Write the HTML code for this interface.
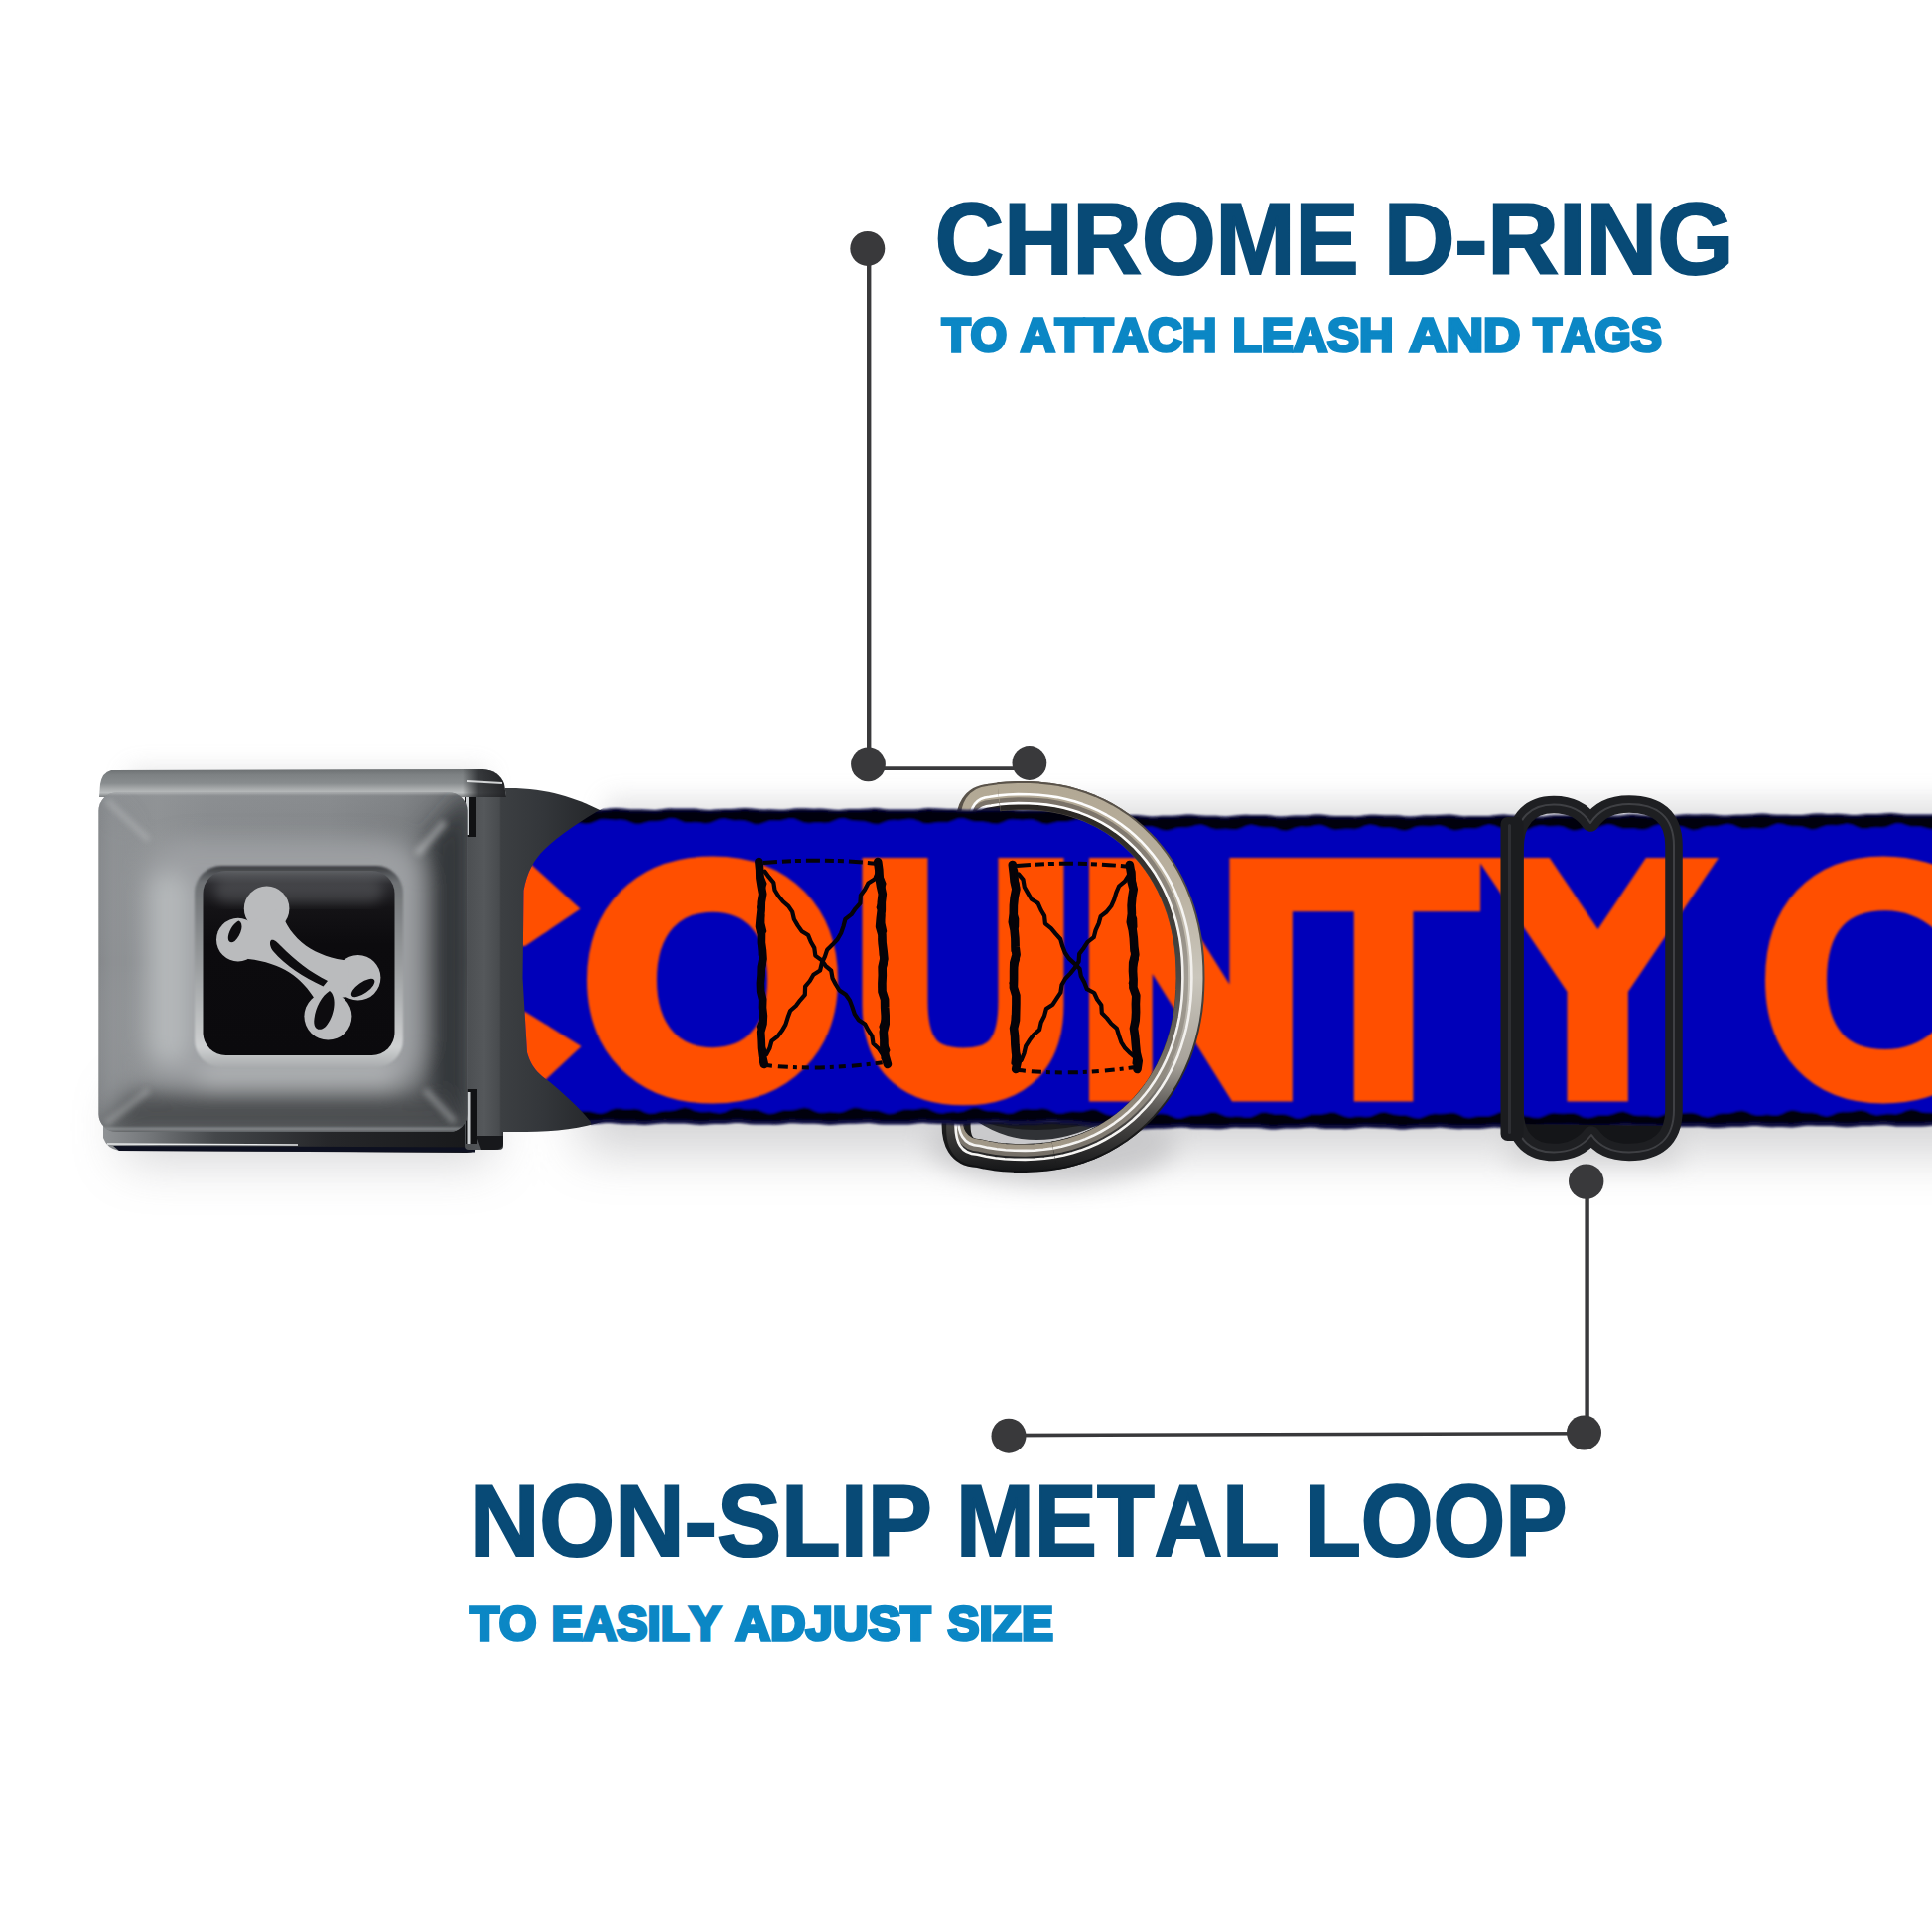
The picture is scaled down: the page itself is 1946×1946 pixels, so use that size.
<!DOCTYPE html>
<html lang="en"><head><meta charset="utf-8"><title>Collar features</title>
<style>html,body{margin:0;padding:0;background:#fff}svg{display:block}</style></head>
<body>
<svg width="1946" height="1946" viewBox="0 0 1946 1946">
<defs>
<filter id="b30" filterUnits="userSpaceOnUse" x="-200" y="500" width="2400" height="1100"><feGaussianBlur stdDeviation="26"/></filter>
<filter id="b14" filterUnits="userSpaceOnUse" x="-200" y="500" width="2400" height="1100"><feGaussianBlur stdDeviation="13"/></filter>
<filter id="b10" x="-20%" y="-20%" width="140%" height="140%"><feGaussianBlur stdDeviation="11"/></filter>
<filter id="b6" x="-20%" y="-20%" width="140%" height="140%"><feGaussianBlur stdDeviation="6"/></filter>
<filter id="b3" x="-20%" y="-20%" width="140%" height="140%"><feGaussianBlur stdDeviation="3"/></filter>
<filter id="b1" filterUnits="userSpaceOnUse" x="0" y="700" width="1946" height="600"><feGaussianBlur stdDeviation="1.1"/></filter>
<linearGradient id="gface" x1="0" y1="0" x2="0" y2="1">
 <stop offset="0" stop-color="#aeb2b3"/><stop offset=".12" stop-color="#9da1a3"/><stop offset=".55" stop-color="#8a8e90"/><stop offset=".9" stop-color="#6f7375"/><stop offset="1" stop-color="#8e9294"/>
</linearGradient>
<linearGradient id="gpillow" x1="0" y1="0" x2="1" y2="1">
 <stop offset="0" stop-color="#b4b7b8"/><stop offset=".5" stop-color="#9a9ea0"/><stop offset="1" stop-color="#808486"/>
</linearGradient>
<linearGradient id="grecess" x1="0" y1="0" x2="0" y2="1">
 <stop offset="0" stop-color="#4e5153"/><stop offset=".15" stop-color="#85898b"/><stop offset=".8" stop-color="#a9acae"/><stop offset="1" stop-color="#c4c6c7"/>
</linearGradient>
<linearGradient id="gblack" x1="0" y1="0" x2="0" y2="1">
 <stop offset="0" stop-color="#3b3c40"/><stop offset=".12" stop-color="#19191c"/><stop offset=".3" stop-color="#0c0b0e"/><stop offset="1" stop-color="#0a090c"/>
</linearGradient>
<linearGradient id="gtoplip" x1="0" y1="0" x2="0" y2="1">
 <stop offset="0" stop-color="#6f7375"/><stop offset=".35" stop-color="#8b8f91"/><stop offset=".7" stop-color="#b9bcbd"/><stop offset="1" stop-color="#c9cbcc"/>
</linearGradient>
<linearGradient id="gbotlip" x1="0" y1="0" x2="0" y2="1">
 <stop offset="0" stop-color="#4a4d50"/><stop offset=".45" stop-color="#1a1c1f"/><stop offset=".8" stop-color="#0e0f12"/><stop offset="1" stop-color="#6a6d70"/>
</linearGradient>
<linearGradient id="ghinge" x1="0" y1="0" x2="1" y2="0">
 <stop offset="0" stop-color="#d9dbdc"/><stop offset=".18" stop-color="#5a5d60"/><stop offset=".3" stop-color="#e8e9ea"/><stop offset=".38" stop-color="#2c2e31"/><stop offset=".7" stop-color="#43464a"/><stop offset="1" stop-color="#2a2c2f"/>
</linearGradient>
</defs>
<rect width="1946" height="1946" fill="#ffffff"/>
<g opacity=".37">
<rect x="585" y="1085" width="1500" height="75" fill="#85858a" filter="url(#b30)"/>
<rect x="125" y="1100" width="370" height="70" fill="#8d8d92" filter="url(#b30)"/>
<ellipse cx="1060" cy="1150" rx="125" ry="42" fill="#707075" filter="url(#b14)"/>
<rect x="1520" y="1120" width="170" height="52" fill="#8a8a8e" filter="url(#b14)"/>
</g>
<g opacity=".28"><rect x="610" y="805" width="1500" height="50" fill="#9a9a9e" filter="url(#b14)"/><rect x="130" y="775" width="360" height="40" fill="#a5a5a9" filter="url(#b14)"/></g>
<defs>
<linearGradient id="bfaceH" x1="0" y1="0" x2="1" y2="0">
 <stop offset="0" stop-color="#7e8184"/><stop offset=".04" stop-color="#939699"/><stop offset=".16" stop-color="#9c9fa1"/><stop offset=".3" stop-color="#8f9295"/><stop offset=".62" stop-color="#888b8e"/><stop offset=".82" stop-color="#74777a"/><stop offset=".92" stop-color="#55585b"/><stop offset="1" stop-color="#3a3d40"/>
</linearGradient>
<linearGradient id="bfaceV" x1="0" y1="0" x2="0" y2="1">
 <stop offset="0" stop-color="#c8cacb" stop-opacity=".7"/><stop offset=".012" stop-color="#8f9295" stop-opacity=".3"/><stop offset=".1" stop-color="#85888b" stop-opacity=".1"/><stop offset=".5" stop-color="#ffffff" stop-opacity="0"/><stop offset="1" stop-color="#55585b" stop-opacity=".25"/>
</linearGradient>
<linearGradient id="btoplip" x1="0" y1="0" x2="0" y2="1">
 <stop offset="0" stop-color="#6c7072"/><stop offset=".2" stop-color="#7d8183"/><stop offset=".5" stop-color="#888c8e"/><stop offset=".72" stop-color="#a9acad"/><stop offset=".85" stop-color="#b9bcbd"/><stop offset="1" stop-color="#7b7e80"/>
</linearGradient>
<linearGradient id="bliptail" x1="0" y1="0" x2="1" y2="0">
 <stop offset="0" stop-color="#2a2c2f" stop-opacity="0"/><stop offset=".35" stop-color="#2a2c2f" stop-opacity=".85"/><stop offset="1" stop-color="#1c1d20" stop-opacity=".95"/>
</linearGradient>
<linearGradient id="bbotlipH" x1="0" y1="0" x2="1" y2="0">
 <stop offset="0" stop-color="#8f9295"/><stop offset=".12" stop-color="#74777a"/><stop offset=".3" stop-color="#44474a"/><stop offset=".6" stop-color="#26272a"/><stop offset="1" stop-color="#17181a"/>
</linearGradient>
<linearGradient id="bhinge" x1="0" y1="0" x2="1" y2="0">
 <stop offset="0" stop-color="#4b4e51"/><stop offset=".5" stop-color="#55585b"/><stop offset=".9" stop-color="#484b4e"/><stop offset="1" stop-color="#2c2e31"/>
</linearGradient>
<linearGradient id="btab" x1="0" y1="0" x2="1" y2="0">
 <stop offset="0" stop-color="#3c3f42"/><stop offset=".4" stop-color="#33363a"/><stop offset="1" stop-color="#222427"/>
</linearGradient>
<linearGradient id="brecess" x1="0" y1="0" x2="0" y2="1">
 <stop offset="0" stop-color="#3a3c40"/><stop offset=".08" stop-color="#6e7174"/><stop offset=".5" stop-color="#9b9ea0"/><stop offset=".9" stop-color="#cfd1d2"/><stop offset="1" stop-color="#a9acae"/>
</linearGradient>
<linearGradient id="bblack" x1="0" y1="0" x2="0" y2="1">
 <stop offset="0" stop-color="#5d5f63"/><stop offset=".07" stop-color="#2c2c30"/><stop offset=".2" stop-color="#141316"/><stop offset=".4" stop-color="#0c0b0e"/><stop offset="1" stop-color="#0b0a0d"/>
</linearGradient>
<clipPath id="faceclip"><rect x="99.5" y="798.5" width="371" height="341.5" rx="18"/></clipPath>
</defs>
<g id="buckle">
<path d="M104,1130 L481,1130 L481,1152 Q480,1161 470,1161 L120,1159 Q108,1157 104,1146Z" fill="url(#bbotlipH)"/>
<path d="M114,1154 L478,1155.5 L478,1160.5 L120,1159 Z" fill="#0d1020"/>
<path d="M108,1152 L300,1153" stroke="#e9ebec" stroke-width="1.6"/>
<rect x="468" y="789" width="39" height="369" rx="4" fill="url(#bhinge)"/>
<rect x="468" y="795" width="11" height="48" fill="#111214"/><rect x="469" y="795" width="3" height="46" fill="#cfd2d4"/>
<rect x="469" y="1097" width="11" height="55" fill="#111214"/><rect x="470.5" y="1100" width="3" height="52" fill="#cfd2d4"/>
<path d="M479,1144 L507,1144 L507,1152 Q506,1158 498,1158 L484,1158Z" fill="#17181b"/>
<path d="M505,794 L520,794 C560,796 585,806 612,820 L612,1128 C590,1136 560,1140 530,1140 L505,1140Z" fill="url(#btab)"/>
<path d="M112,776 L486,775 Q503,776 508,790 L510,803 L100,803 L101,790 Q103,778 112,776Z" fill="url(#btoplip)"/>
<path d="M466,775.3 L486,775 Q503,776 508,790 L510,803 L466,803Z" fill="url(#bliptail)"/>
<path d="M470,787 L506,789" stroke="#eef0f1" stroke-width="1.8" opacity=".85"/>
<g clip-path="url(#faceclip)">
<rect x="99" y="798" width="372" height="343" fill="#84878a"/>
<rect x="99" y="798" width="372" height="343" fill="url(#bfaceH)" opacity=".55"/>
<rect x="99" y="798" width="372" height="343" fill="url(#bfaceV)"/>
<g filter="url(#b10)">
<rect x="146" y="846" width="280" height="248" rx="44" fill="#9c9fa2"/>
<rect x="150" y="880" width="40" height="190" rx="18" fill="#b4b7b9"/>
<rect x="200" y="1078" width="200" height="16" rx="8" fill="#b9bcbe"/>
<path d="M430,846 L474,796 L474,1144 L430,1096Z" fill="#2f3235" opacity=".95"/>
<path d="M124,1100 L446,1100 L474,1144 L96,1144Z" fill="#45484b" opacity=".9"/>
<path d="M100,800 L130,832 L130,1104 L100,1138Z" fill="#8f9295" opacity=".6"/>
</g>
<path d="M107,806 L150,846" stroke="#d0d2d3" stroke-width="5" opacity=".4" filter="url(#b3)"/>
<path d="M106,1132 L150,1098" stroke="#c9cbcc" stroke-width="5" opacity=".45" filter="url(#b3)"/>
<path d="M428,1098 L458,1130" stroke="#c5c8c9" stroke-width="6" opacity=".5" filter="url(#b3)"/>
<path d="M420,860 L448,828" stroke="#d5d7d8" stroke-width="7" opacity=".5" filter="url(#b3)"/>
<path d="M423,880 L423,1060" stroke="#d0d2d3" stroke-width="8" opacity=".35" filter="url(#b6)"/>
<path d="M100,1137 L470,1137" stroke="#a4a7a9" stroke-width="3" opacity=".6" filter="url(#b1)"/>
</g>
<rect x="196" y="872" width="210" height="203" rx="27" fill="url(#brecess)" filter="url(#b1)"/>
<rect x="204.5" y="877" width="193" height="186" rx="23" fill="url(#bblack)"/>
<rect x="216" y="884" width="170" height="26" rx="13" fill="#77797d" opacity=".35" filter="url(#b6)"/>
<g fill="#babbbd">
<circle cx="268.6" cy="915.3" r="22.8"/>
<circle cx="239.8" cy="946.6" r="21.8"/>
<circle cx="360.6" cy="984.8" r="22.8"/>
<circle cx="330.4" cy="1023.6" r="24"/>
<path d="M250,930 L282,915 C292,948 318,964 352,968 L350,1004 L318,1008 C304,984 284,970 250,966Z"/>
</g>
<g fill="#0d0c0f">
<path d="M240.5,927.5 C246,930 243.5,941 236.5,948 C231,951.5 228.5,947 230.5,940.5 C232.5,934 236.5,929.5 240.5,927.5Z"/>
<ellipse cx="365.6" cy="995" rx="13.8" ry="5.6" transform="rotate(-35 365.6 995)"/>
<path d="M332,998 C340,1004 337,1024 328,1034 C321,1040 315,1036 316.5,1026 C318,1014 324,1003 332,998Z"/>
<path d="M273,947 C276,946 279,949 283,953 C298,968 312,979 330,988 L325.5,993.5 C305,984 288,973 275,958 C272,954 271,949 273,947Z"/>
</g>
</g>
<defs>
<linearGradient id="grbase" gradientUnits="userSpaceOnUse" x1="0" y1="787" x2="0" y2="1182">
 <stop offset="0" stop-color="#5a534a"/><stop offset=".5" stop-color="#4a4742"/><stop offset="1" stop-color="#0f1012"/>
</linearGradient>
<linearGradient id="grout" gradientUnits="userSpaceOnUse" x1="0" y1="787" x2="0" y2="1182">
 <stop offset="0" stop-color="#b2a894"/><stop offset=".25" stop-color="#b9b09f"/><stop offset=".5" stop-color="#cac6bc"/><stop offset=".72" stop-color="#a7a29a"/><stop offset=".86" stop-color="#4a4846"/><stop offset="1" stop-color="#131416"/>
</linearGradient>
<linearGradient id="grmid" gradientUnits="userSpaceOnUse" x1="0" y1="787" x2="0" y2="1182">
 <stop offset="0" stop-color="#756d63"/><stop offset=".5" stop-color="#a19c93"/><stop offset=".85" stop-color="#8a847a"/><stop offset="1" stop-color="#6d675f"/>
</linearGradient>
<linearGradient id="grin" gradientUnits="userSpaceOnUse" x1="0" y1="787" x2="0" y2="1182">
 <stop offset="0" stop-color="#25221f"/><stop offset=".5" stop-color="#4b4844"/><stop offset=".8" stop-color="#8d8577"/><stop offset="1" stop-color="#ada391"/>
</linearGradient>
<linearGradient id="grhi" gradientUnits="userSpaceOnUse" x1="0" y1="787" x2="0" y2="1182">
 <stop offset="0" stop-color="#ffffff"/><stop offset=".5" stop-color="#f1efec"/><stop offset="1" stop-color="#f6f5f3"/>
</linearGradient>
</defs>
<g><path d="M977.2,834.1 Q975.7,805.6 996.7,804.1 L996.7,804.1 1005.9,802.8 1015.3,801.9 1025.3,801.5 1036.2,801.6 1045.9,802.1 1055.3,803.1 1064.4,804.5 1073.2,806.3 1081.8,808.7 1090.2,811.4 1098.3,814.6 1106.3,818.2 1113.9,822.3 1121.4,826.7 1128.5,831.6 1135.4,836.8 1142.0,842.4 1148.3,848.4 1154.2,854.8 1159.9,861.5 1165.2,868.5 1170.1,875.8 1174.7,883.5 1178.9,891.4 1182.7,899.6 1186.2,908.1 1189.2,916.8 1191.9,925.8 1194.1,935.0 1195.9,944.5 1197.3,954.2 1198.3,964.2 1198.9,974.6 1199.0,986.2 1198.7,997.1 1198.0,1007.4 1196.9,1017.3 1195.3,1026.9 1193.3,1036.2 1191.0,1045.4 1188.2,1054.3 1185.0,1062.9 1181.4,1071.3 1177.5,1079.4 1173.1,1087.3 1168.4,1094.8 1163.3,1102.0 1157.9,1108.9 1152.2,1115.5 1146.1,1121.7 1139.7,1127.6 1133.0,1133.1 1126.0,1138.2 1118.8,1142.9 1111.3,1147.2 1103.5,1151.1 1095.5,1154.6 1087.2,1157.6 1078.8,1160.2 1070.1,1162.4 1061.2,1164.1 1052.0,1165.3 1042.6,1166.1 1032.5,1166.5 1021.6,1166.4 1011.9,1165.8 1002.6,1164.8 993.6,1163.3 984.8,1161.4 Q960.8,1160.4 963.3,1127.4" fill="none" stroke="url(#grbase)" stroke-width="29" stroke-linecap="round" stroke-linejoin="round"/>
<path d="M976.6,830.7 Q975.1,802.2 996.1,800.7 L996.1,800.7 1005.4,799.3 1015.0,798.4 1025.2,798.0 1036.3,798.1 1046.3,798.6 1055.8,799.6 1065.1,801.0 1074.1,802.9 1082.9,805.3 1091.4,808.1 1099.8,811.4 1107.9,815.0 1115.7,819.2 1123.3,823.7 1130.6,828.6 1137.6,834.0 1144.3,839.7 1150.7,845.8 1156.8,852.3 1162.6,859.1 1168.0,866.3 1173.0,873.7 1177.7,881.5 1182.0,889.6 1185.9,898.0 1189.4,906.6 1192.5,915.5 1195.2,924.7 1197.5,934.1 1199.3,943.7 1200.8,953.6 1201.8,963.8 1202.4,974.4 1202.5,986.3 1202.2,997.4 1201.5,1007.8 1200.3,1017.9 1198.7,1027.7 1196.7,1037.3 1194.3,1046.6 1191.5,1055.6 1188.2,1064.4 1184.6,1073.0 1180.5,1081.3 1176.1,1089.2 1171.3,1096.9 1166.1,1104.3 1160.6,1111.3 1154.7,1118.0 1148.5,1124.4 1142.0,1130.4 1135.2,1136.0 1128.0,1141.2 1120.6,1146.0 1113.0,1150.3 1105.0,1154.3 1096.8,1157.8 1088.4,1160.9 1079.8,1163.6 1070.9,1165.8 1061.8,1167.5 1052.5,1168.8 1042.8,1169.6 1032.6,1170.0 1021.5,1169.9 1011.6,1169.3 1002.1,1168.3 992.8,1166.8 983.9,1164.8 Q959.9,1163.8 962.4,1130.8" fill="none" stroke="url(#grout)" stroke-width="18.0" stroke-linecap="round" stroke-linejoin="round"/>
<path d="M978.4,840.0 Q976.9,811.5 997.9,810.0 L997.9,810.0 1006.7,808.8 1015.8,807.9 1025.4,807.5 1035.9,807.6 1045.4,808.1 1054.4,809.0 1063.1,810.4 1071.6,812.2 1079.9,814.4 1088.0,817.1 1095.9,820.2 1103.5,823.7 1111.0,827.6 1118.1,831.9 1125.0,836.6 1131.7,841.6 1138.0,847.1 1144.1,852.9 1149.8,859.0 1155.3,865.5 1160.4,872.3 1165.1,879.4 1169.6,886.8 1173.6,894.5 1177.3,902.4 1180.6,910.6 1183.6,919.0 1186.1,927.7 1188.3,936.6 1190.0,945.8 1191.4,955.2 1192.3,964.8 1192.9,974.9 1193.0,986.1 1192.7,996.7 1192.0,1006.6 1190.9,1016.2 1189.4,1025.5 1187.5,1034.5 1185.3,1043.4 1182.6,1052.0 1179.5,1060.3 1176.0,1068.4 1172.2,1076.3 1168.0,1083.9 1163.5,1091.2 1158.6,1098.2 1153.4,1104.8 1147.8,1111.2 1142.0,1117.2 1135.8,1122.9 1129.4,1128.2 1122.6,1133.1 1115.6,1137.7 1108.4,1141.9 1100.9,1145.6 1093.2,1149.0 1085.2,1151.9 1077.0,1154.4 1068.7,1156.5 1060.1,1158.2 1051.2,1159.4 1042.1,1160.1 1032.4,1160.5 1021.9,1160.4 1012.6,1159.8 1003.6,1158.9 994.9,1157.4 986.4,1155.6 Q962.4,1154.6 964.9,1121.6" fill="none" stroke="url(#grmid)" stroke-width="8.4" stroke-linecap="butt" stroke-linejoin="round"/>
<path d="M979.4,845.1 Q977.9,816.6 998.9,815.1 L998.9,815.1 1007.4,813.9 1016.2,813.1 1025.5,812.7 1035.7,812.8 1044.9,813.3 1053.6,814.2 1062.1,815.5 1070.3,817.2 1078.3,819.4 1086.2,822.0 1093.8,825.0 1101.2,828.4 1108.4,832.2 1115.3,836.4 1122.0,840.9 1128.4,845.8 1134.6,851.1 1140.4,856.7 1146.0,862.7 1151.3,869.0 1156.2,875.6 1160.8,882.5 1165.1,889.6 1169.0,897.1 1172.6,904.8 1175.8,912.8 1178.7,921.0 1181.1,929.4 1183.2,938.0 1184.9,946.9 1186.2,956.0 1187.1,965.4 1187.7,975.2 1187.8,986.1 1187.5,996.3 1186.9,1005.9 1185.8,1015.2 1184.4,1024.2 1182.5,1033.0 1180.3,1041.6 1177.7,1050.0 1174.7,1058.1 1171.4,1066.0 1167.7,1073.6 1163.6,1080.9 1159.2,1088.0 1154.5,1094.8 1149.4,1101.3 1144.1,1107.5 1138.4,1113.3 1132.4,1118.8 1126.2,1124.0 1119.7,1128.7 1112.9,1133.2 1105.9,1137.2 1098.6,1140.9 1091.1,1144.1 1083.4,1147.0 1075.5,1149.4 1067.4,1151.4 1059.1,1153.0 1050.5,1154.2 1041.7,1155.0 1032.3,1155.3 1022.2,1155.2 1013.1,1154.7 1004.4,1153.7 996.0,1152.3 987.7,1150.5 Q963.7,1149.5 966.2,1116.5" fill="none" stroke="url(#grin)" stroke-width="5.6" stroke-linecap="butt" stroke-linejoin="round"/>
<path d="M977.0,832.7 Q975.5,804.2 996.5,802.7 L996.5,802.7 1005.7,801.4 1015.2,800.5 1025.2,800.1 1036.2,800.2 1046.1,800.7 1055.5,801.7 1064.7,803.1 1073.6,805.0 1082.2,807.3 1090.7,810.1 1098.9,813.3 1106.9,816.9 1114.6,821.0 1122.1,825.5 1129.4,830.4 1136.3,835.7 1142.9,841.3 1149.3,847.4 1155.3,853.8 1161.0,860.5 1166.3,867.6 1171.3,875.0 1175.9,882.7 1180.1,890.7 1184.0,899.0 1187.5,907.5 1190.5,916.3 1193.2,925.4 1195.5,934.7 1197.3,944.2 1198.7,954.0 1199.7,964.0 1200.3,974.5 1200.4,986.2 1200.1,997.2 1199.4,1007.6 1198.2,1017.5 1196.7,1027.2 1194.7,1036.7 1192.3,1045.9 1189.5,1054.8 1186.3,1063.5 1182.7,1072.0 1178.7,1080.2 1174.3,1088.1 1169.6,1095.7 1164.5,1102.9 1159.0,1109.9 1153.2,1116.5 1147.1,1122.8 1140.6,1128.7 1133.9,1134.2 1126.8,1139.4 1119.5,1144.1 1111.9,1148.5 1104.1,1152.4 1096.0,1155.9 1087.7,1158.9 1079.2,1161.6 1070.4,1163.7 1061.5,1165.5 1052.2,1166.7 1042.7,1167.5 1032.5,1167.9 1021.6,1167.8 1011.8,1167.2 1002.4,1166.2 993.3,1164.7 984.4,1162.8 Q960.4,1161.8 962.9,1128.8" fill="none" stroke="url(#grhi)" stroke-width="2.6" stroke-linecap="butt" stroke-linejoin="round"/>
<path d="M978.7,841.6 Q977.2,813.1 998.2,811.6 L998.2,811.6 1006.9,810.3 1015.9,809.5 1025.4,809.1 1035.9,809.2 1045.2,809.7 1054.1,810.6 1062.8,812.0 1071.2,813.7 1079.5,816.0 1087.5,818.6 1095.3,821.7 1102.8,825.1 1110.2,829.0 1117.3,833.3 1124.1,837.9 1130.7,842.9 1137.0,848.3 1143.0,854.1 1148.7,860.1 1154.0,866.6 1159.1,873.3 1163.8,880.3 1168.2,887.7 1172.2,895.3 1175.9,903.1 1179.1,911.3 1182.1,919.6 1184.6,928.2 1186.7,937.1 1188.4,946.1 1189.8,955.4 1190.7,965.0 1191.3,975.0 1191.4,986.1 1191.1,996.6 1190.4,1006.4 1189.4,1015.9 1187.9,1025.1 1186.0,1034.1 1183.7,1042.8 1181.1,1051.3 1178.0,1059.6 1174.6,1067.7 1170.8,1075.5 1166.7,1083.0 1162.2,1090.2 1157.3,1097.1 1152.2,1103.7 1146.7,1110.0 1140.9,1116.0 1134.8,1121.6 1128.4,1126.9 1121.7,1131.8 1114.8,1136.3 1107.6,1140.4 1100.2,1144.1 1092.5,1147.5 1084.7,1150.4 1076.6,1152.9 1068.3,1154.9 1059.8,1156.6 1051.0,1157.8 1042.0,1158.6 1032.4,1158.9 1022.0,1158.8 1012.7,1158.2 1003.8,1157.3 995.2,1155.9 986.8,1154.0 Q962.8,1153.0 965.3,1120.0" fill="none" stroke="url(#grhi)" stroke-width="2.6" stroke-linecap="butt" stroke-linejoin="round"/><path d="M985,1130 Q1040,1166 1112,1130 Z" fill="#303236"/><path d="M990,1130 Q1040,1146 1105,1130 Z" fill="#1a1b1e"/></g>
<defs>
<clipPath id="beltL"><path d="M610,790 L609,813 C586,826 562,842 548,856 C538,866 531,878 527.5,897 L526.5,985 L531,1060 C536,1078 546,1084 554,1090 C568,1102 584,1116 595,1130 L596,1160 L1960,1160 L1960,790Z"/></clipPath>
</defs>
<g clip-path="url(#beltL)"><g filter="url(#b1)"><path d="M520.0,815.5 L525.0,815.9 L530.0,815.9 L535.0,815.4 L540.0,814.8 L545.0,814.5 L550.0,814.6 L555.0,814.6 L560.0,814.4 L565.0,814.3 L570.0,814.5 L575.0,815.2 L580.0,815.8 L585.0,815.8 L590.0,815.5 L595.0,815.3 L600.0,815.3 L605.0,815.3 L610.0,814.9 L615.0,814.3 L620.0,814.0 L625.0,814.2 L630.0,814.8 L635.0,815.2 L640.0,815.2 L645.0,815.2 L650.0,815.5 L655.0,815.8 L660.0,815.9 L665.0,815.4 L670.0,814.7 L675.0,814.3 L680.0,814.4 L685.0,814.6 L690.0,814.6 L695.0,814.4 L700.0,814.6 L705.0,815.2 L710.0,815.8 L715.0,815.9 L720.0,815.6 L725.0,815.2 L730.0,815.1 L735.0,815.1 L740.0,814.8 L745.0,814.3 L750.0,814.0 L755.0,814.2 L760.0,814.8 L765.0,815.3 L770.0,815.4 L775.0,815.3 L780.0,815.4 L785.0,815.7 L790.0,815.7 L795.0,815.3 L800.0,814.6 L805.0,814.2 L810.0,814.3 L815.0,814.6 L820.0,814.7 L825.0,814.6 L830.0,814.8 L835.0,815.3 L840.0,815.8 L845.0,816.0 L850.0,815.6 L855.0,815.1 L860.0,814.9 L865.0,814.9 L870.0,814.8 L875.0,814.4 L880.0,814.1 L885.0,814.2 L890.0,814.9 L895.0,815.4 L900.0,815.6 L905.0,815.5 L910.0,815.4 L915.0,815.5 L920.0,815.6 L925.0,815.2 L930.0,814.6 L935.0,814.1 L940.0,814.2 L945.0,814.6 L950.0,814.8 L955.0,814.9 L960.0,814.9 L965.0,815.3 L970.0,815.8 L975.0,816.0 L980.0,815.6 L985.0,815.0 L990.0,814.7 L995.0,814.7 L1000.0,814.7 L1005.0,814.5 L1010.0,814.2 L1015.0,814.3 L1020.0,814.9 L1025.0,815.5 L1030.0,815.8 L1035.0,815.6 L1040.0,815.4 L1045.0,815.4 L1050.0,815.4 L1055.0,815.1 L1060.0,814.5 L1065.0,814.1 L1070.0,814.1 L1075.0,814.6 L1080.0,815.1 L1085.0,815.6 L1090.0,816.1 L1095.0,817.0 L1100.0,818.2 L1105.0,819.2 L1110.0,819.7 L1115.0,819.8 L1120.0,820.0 L1125.0,820.5 L1130.0,821.0 L1135.0,821.1 L1140.0,820.9 L1145.0,820.9 L1150.0,821.4 L1155.0,822.1 L1160.0,822.4 L1165.0,822.2 L1170.0,821.8 L1175.0,821.7 L1180.0,821.7 L1185.0,821.5 L1190.0,821.0 L1195.0,820.6 L1200.0,820.6 L1205.0,821.1 L1210.0,821.6 L1215.0,821.8 L1220.0,821.8 L1225.0,821.8 L1230.0,822.2 L1235.0,822.4 L1240.0,822.1 L1245.0,821.4 L1250.0,820.9 L1255.0,820.8 L1260.0,821.0 L1265.0,821.1 L1270.0,821.0 L1275.0,821.1 L1280.0,821.5 L1285.0,822.2 L1290.0,822.5 L1295.0,822.3 L1300.0,821.8 L1305.0,821.5 L1310.0,821.5 L1315.0,821.4 L1320.0,821.0 L1325.0,820.6 L1330.0,820.6 L1335.0,821.1 L1340.0,821.7 L1345.0,822.0 L1350.0,821.9 L1355.0,821.9 L1360.0,822.1 L1365.0,822.2 L1370.0,822.0 L1375.0,821.3 L1380.0,820.8 L1385.0,820.7 L1390.0,821.0 L1395.0,821.2 L1400.0,821.2 L1405.0,821.2 L1410.0,821.6 L1415.0,822.2 L1420.0,822.5 L1425.0,822.3 L1430.0,821.7 L1435.0,821.3 L1440.0,821.3 L1445.0,821.3 L1450.0,821.1 L1455.0,820.7 L1460.0,820.6 L1465.0,821.1 L1470.0,821.8 L1475.0,822.2 L1480.0,822.1 L1485.0,821.9 L1490.0,821.9 L1495.0,822.0 L1500.0,821.9 L1505.0,821.3 L1510.0,820.7 L1515.0,820.5 L1520.0,820.9 L1525.0,821.3 L1530.0,821.4 L1535.0,821.4 L1540.0,821.6 L1545.0,822.1 L1550.0,822.4 L1555.0,822.2 L1560.0,821.6 L1565.0,821.1 L1570.0,821.0 L1575.0,821.0 L1580.0,821.0 L1585.0,820.7 L1590.0,820.6 L1595.0,821.0 L1600.0,821.7 L1605.0,822.1 L1610.0,822.0 L1615.0,821.7 L1620.0,821.5 L1625.0,821.6 L1630.0,821.4 L1635.0,820.9 L1640.0,820.3 L1645.0,820.1 L1650.0,820.5 L1655.0,821.0 L1660.0,821.2 L1665.0,821.2 L1670.0,821.2 L1675.0,821.6 L1680.0,821.9 L1685.0,821.7 L1690.0,821.1 L1695.0,820.4 L1700.0,820.2 L1705.0,820.4 L1710.0,820.4 L1715.0,820.3 L1720.0,820.2 L1725.0,820.5 L1730.0,821.1 L1735.0,821.6 L1740.0,821.5 L1745.0,821.1 L1750.0,820.8 L1755.0,820.7 L1760.0,820.6 L1765.0,820.3 L1770.0,819.7 L1775.0,819.5 L1780.0,819.8 L1785.0,820.4 L1790.0,820.8 L1795.0,820.8 L1800.0,820.7 L1805.0,820.9 L1810.0,821.1 L1815.0,821.0 L1820.0,820.4 L1825.0,819.7 L1830.0,819.5 L1835.0,819.6 L1840.0,819.9 L1845.0,819.9 L1850.0,819.8 L1855.0,820.0 L1860.0,820.6 L1865.0,821.1 L1870.0,821.0 L1875.0,820.6 L1880.0,820.1 L1885.0,820.0 L1890.0,820.0 L1895.0,819.7 L1900.0,819.3 L1905.0,819.1 L1910.0,819.4 L1915.0,820.1 L1920.0,820.5 L1925.0,820.6 L1930.0,820.4 L1935.0,820.4 L1940.0,820.6 L1945.0,820.6 L1950.0,820.1 L1955.0,819.4 L1960.0,819.1 L1960.0,1133.5 L1955.0,1133.1 L1950.0,1133.1 L1945.0,1133.7 L1940.0,1134.3 L1935.0,1134.6 L1930.0,1134.5 L1925.0,1134.4 L1920.0,1134.5 L1915.0,1134.6 L1910.0,1134.4 L1905.0,1133.8 L1900.0,1133.3 L1895.0,1133.2 L1890.0,1133.6 L1885.0,1133.9 L1880.0,1134.0 L1875.0,1134.0 L1870.0,1134.4 L1865.0,1134.9 L1860.0,1135.2 L1855.0,1135.0 L1850.0,1134.5 L1845.0,1134.0 L1840.0,1134.0 L1835.0,1134.1 L1830.0,1134.0 L1825.0,1133.7 L1820.0,1133.7 L1815.0,1134.2 L1810.0,1135.0 L1805.0,1135.4 L1800.0,1135.3 L1795.0,1135.1 L1790.0,1135.0 L1785.0,1135.2 L1780.0,1135.0 L1775.0,1134.5 L1770.0,1134.0 L1765.0,1133.9 L1760.0,1134.4 L1755.0,1134.9 L1750.0,1135.1 L1745.0,1135.1 L1740.0,1135.3 L1735.0,1135.8 L1730.0,1136.1 L1725.0,1136.0 L1720.0,1135.4 L1715.0,1134.9 L1710.0,1134.8 L1705.0,1135.0 L1700.0,1135.0 L1695.0,1134.9 L1690.0,1134.9 L1685.0,1135.3 L1680.0,1136.1 L1675.0,1136.5 L1670.0,1136.5 L1665.0,1136.1 L1660.0,1135.9 L1655.0,1136.0 L1650.0,1136.0 L1645.0,1135.6 L1640.0,1135.1 L1635.0,1135.0 L1630.0,1135.4 L1625.0,1136.0 L1620.0,1136.4 L1615.0,1136.4 L1610.0,1136.4 L1605.0,1136.7 L1600.0,1137.0 L1595.0,1136.9 L1590.0,1136.3 L1585.0,1135.7 L1580.0,1135.5 L1575.0,1135.8 L1570.0,1136.0 L1565.0,1135.9 L1560.0,1135.9 L1555.0,1136.2 L1550.0,1136.9 L1545.0,1137.4 L1540.0,1137.3 L1535.0,1136.9 L1530.0,1136.5 L1525.0,1136.5 L1520.0,1136.4 L1515.0,1136.2 L1510.0,1135.7 L1505.0,1135.5 L1500.0,1135.9 L1495.0,1136.6 L1490.0,1137.0 L1485.0,1137.0 L1480.0,1136.9 L1475.0,1137.0 L1470.0,1137.2 L1465.0,1137.1 L1460.0,1136.5 L1455.0,1135.9 L1450.0,1135.6 L1445.0,1135.9 L1440.0,1136.2 L1435.0,1136.3 L1430.0,1136.2 L1425.0,1136.5 L1420.0,1137.0 L1415.0,1137.5 L1410.0,1137.4 L1405.0,1136.9 L1400.0,1136.4 L1395.0,1136.3 L1390.0,1136.3 L1385.0,1136.1 L1380.0,1135.8 L1375.0,1135.6 L1370.0,1136.0 L1365.0,1136.6 L1360.0,1137.1 L1355.0,1137.2 L1350.0,1136.9 L1345.0,1136.9 L1340.0,1137.0 L1335.0,1137.0 L1330.0,1136.5 L1325.0,1135.8 L1320.0,1135.5 L1315.0,1135.8 L1310.0,1136.2 L1305.0,1136.5 L1300.0,1136.4 L1295.0,1136.6 L1290.0,1137.0 L1285.0,1137.4 L1280.0,1137.4 L1275.0,1136.9 L1270.0,1136.3 L1265.0,1136.0 L1260.0,1136.1 L1255.0,1136.1 L1250.0,1135.9 L1245.0,1135.7 L1240.0,1136.0 L1235.0,1136.7 L1230.0,1137.2 L1225.0,1137.3 L1220.0,1137.0 L1215.0,1136.8 L1210.0,1136.8 L1205.0,1136.8 L1200.0,1136.4 L1195.0,1135.8 L1190.0,1135.5 L1185.0,1135.7 L1180.0,1136.3 L1175.0,1136.6 L1170.0,1136.7 L1165.0,1136.7 L1160.0,1137.0 L1155.0,1137.3 L1150.0,1137.4 L1145.0,1136.9 L1140.0,1136.2 L1135.0,1135.9 L1130.0,1135.9 L1125.0,1135.8 L1120.0,1135.3 L1115.0,1134.7 L1110.0,1134.4 L1105.0,1134.5 L1100.0,1134.5 L1095.0,1134.1 L1090.0,1133.3 L1085.0,1132.5 L1080.0,1132.2 L1075.0,1132.1 L1070.0,1131.9 L1065.0,1131.3 L1060.0,1131.0 L1055.0,1131.2 L1050.0,1131.8 L1045.0,1132.3 L1040.0,1132.4 L1035.0,1132.3 L1030.0,1132.4 L1025.0,1132.7 L1020.0,1132.8 L1015.0,1132.3 L1010.0,1131.6 L1005.0,1131.2 L1000.0,1131.3 L995.0,1131.6 L990.0,1131.7 L985.0,1131.6 L980.0,1131.7 L975.0,1132.3 L970.0,1132.8 L965.0,1133.0 L960.0,1132.6 L955.0,1132.1 L950.0,1131.9 L945.0,1131.9 L940.0,1131.8 L935.0,1131.4 L930.0,1131.1 L925.0,1131.2 L920.0,1131.9 L915.0,1132.4 L910.0,1132.6 L905.0,1132.4 L900.0,1132.4 L895.0,1132.6 L890.0,1132.6 L885.0,1132.2 L880.0,1131.6 L875.0,1131.1 L870.0,1131.2 L865.0,1131.6 L860.0,1131.8 L855.0,1131.8 L850.0,1131.9 L845.0,1132.3 L840.0,1132.8 L835.0,1133.0 L830.0,1132.6 L825.0,1132.0 L820.0,1131.7 L815.0,1131.7 L810.0,1131.7 L805.0,1131.5 L800.0,1131.2 L795.0,1131.3 L790.0,1131.9 L785.0,1132.5 L780.0,1132.8 L775.0,1132.6 L770.0,1132.4 L765.0,1132.4 L760.0,1132.5 L755.0,1132.2 L750.0,1131.5 L745.0,1131.1 L740.0,1131.1 L735.0,1131.6 L730.0,1132.0 L725.0,1132.0 L720.0,1132.1 L715.0,1132.3 L710.0,1132.8 L705.0,1133.0 L700.0,1132.6 L695.0,1131.9 L690.0,1131.5 L685.0,1131.5 L680.0,1131.6 L675.0,1131.5 L670.0,1131.3 L665.0,1131.4 L660.0,1131.9 L655.0,1132.6 L650.0,1132.9 L645.0,1132.7 L640.0,1132.3 L635.0,1132.2 L630.0,1132.2 L625.0,1132.1 L620.0,1131.5 L615.0,1131.1 L610.0,1131.1 L605.0,1131.6 L600.0,1132.1 L595.0,1132.3 L590.0,1132.2 L585.0,1132.3 L580.0,1132.7 L575.0,1132.9 L570.0,1132.6 L565.0,1131.9 L560.0,1131.4 L555.0,1131.3 L550.0,1131.5 L545.0,1131.6 L540.0,1131.5 L535.0,1131.5 L530.0,1132.0 L525.0,1132.7 L520.0,1133.0Z" fill="#0a0a40"/><path d="M520.0,818.0 L525.0,818.4 L530.0,818.4 L535.0,817.9 L540.0,817.3 L545.0,817.0 L550.0,817.1 L555.0,817.1 L560.0,816.9 L565.0,816.8 L570.0,817.0 L575.0,817.7 L580.0,818.3 L585.0,818.3 L590.0,818.0 L595.0,817.8 L600.0,817.8 L605.0,817.8 L610.0,817.4 L615.0,816.8 L620.0,816.5 L625.0,816.7 L630.0,817.3 L635.0,817.7 L640.0,817.7 L645.0,817.7 L650.0,818.0 L655.0,818.3 L660.0,818.4 L665.0,817.9 L670.0,817.2 L675.0,816.8 L680.0,816.9 L685.0,817.1 L690.0,817.1 L695.0,816.9 L700.0,817.1 L705.0,817.7 L710.0,818.3 L715.0,818.4 L720.0,818.1 L725.0,817.7 L730.0,817.6 L735.0,817.6 L740.0,817.3 L745.0,816.8 L750.0,816.5 L755.0,816.7 L760.0,817.3 L765.0,817.8 L770.0,817.9 L775.0,817.8 L780.0,817.9 L785.0,818.2 L790.0,818.2 L795.0,817.8 L800.0,817.1 L805.0,816.7 L810.0,816.8 L815.0,817.1 L820.0,817.2 L825.0,817.1 L830.0,817.3 L835.0,817.8 L840.0,818.3 L845.0,818.5 L850.0,818.1 L855.0,817.6 L860.0,817.4 L865.0,817.4 L870.0,817.3 L875.0,816.9 L880.0,816.6 L885.0,816.7 L890.0,817.4 L895.0,817.9 L900.0,818.1 L905.0,818.0 L910.0,817.9 L915.0,818.0 L920.0,818.1 L925.0,817.7 L930.0,817.1 L935.0,816.6 L940.0,816.7 L945.0,817.1 L950.0,817.3 L955.0,817.4 L960.0,817.4 L965.0,817.8 L970.0,818.3 L975.0,818.5 L980.0,818.1 L985.0,817.5 L990.0,817.2 L995.0,817.2 L1000.0,817.2 L1005.0,817.0 L1010.0,816.7 L1015.0,816.8 L1020.0,817.4 L1025.0,818.0 L1030.0,818.3 L1035.0,818.1 L1040.0,817.9 L1045.0,817.9 L1050.0,817.9 L1055.0,817.6 L1060.0,817.0 L1065.0,816.6 L1070.0,816.6 L1075.0,817.1 L1080.0,817.6 L1085.0,818.1 L1090.0,818.6 L1095.0,819.5 L1100.0,820.7 L1105.0,821.7 L1110.0,822.2 L1115.0,822.3 L1120.0,822.5 L1125.0,823.0 L1130.0,823.5 L1135.0,823.6 L1140.0,823.4 L1145.0,823.4 L1150.0,823.9 L1155.0,824.6 L1160.0,824.9 L1165.0,824.7 L1170.0,824.3 L1175.0,824.2 L1180.0,824.2 L1185.0,824.0 L1190.0,823.5 L1195.0,823.1 L1200.0,823.1 L1205.0,823.6 L1210.0,824.1 L1215.0,824.3 L1220.0,824.3 L1225.0,824.3 L1230.0,824.7 L1235.0,824.9 L1240.0,824.6 L1245.0,823.9 L1250.0,823.4 L1255.0,823.3 L1260.0,823.5 L1265.0,823.6 L1270.0,823.5 L1275.0,823.6 L1280.0,824.0 L1285.0,824.7 L1290.0,825.0 L1295.0,824.8 L1300.0,824.3 L1305.0,824.0 L1310.0,824.0 L1315.0,823.9 L1320.0,823.5 L1325.0,823.1 L1330.0,823.1 L1335.0,823.6 L1340.0,824.2 L1345.0,824.5 L1350.0,824.4 L1355.0,824.4 L1360.0,824.6 L1365.0,824.7 L1370.0,824.5 L1375.0,823.8 L1380.0,823.3 L1385.0,823.2 L1390.0,823.5 L1395.0,823.7 L1400.0,823.7 L1405.0,823.7 L1410.0,824.1 L1415.0,824.7 L1420.0,825.0 L1425.0,824.8 L1430.0,824.2 L1435.0,823.8 L1440.0,823.8 L1445.0,823.8 L1450.0,823.6 L1455.0,823.2 L1460.0,823.1 L1465.0,823.6 L1470.0,824.3 L1475.0,824.7 L1480.0,824.6 L1485.0,824.4 L1490.0,824.4 L1495.0,824.5 L1500.0,824.4 L1505.0,823.8 L1510.0,823.2 L1515.0,823.0 L1520.0,823.4 L1525.0,823.8 L1530.0,823.9 L1535.0,823.9 L1540.0,824.1 L1545.0,824.6 L1550.0,824.9 L1555.0,824.7 L1560.0,824.1 L1565.0,823.6 L1570.0,823.5 L1575.0,823.5 L1580.0,823.5 L1585.0,823.2 L1590.0,823.1 L1595.0,823.5 L1600.0,824.2 L1605.0,824.6 L1610.0,824.5 L1615.0,824.2 L1620.0,824.0 L1625.0,824.1 L1630.0,823.9 L1635.0,823.4 L1640.0,822.8 L1645.0,822.6 L1650.0,823.0 L1655.0,823.5 L1660.0,823.7 L1665.0,823.7 L1670.0,823.7 L1675.0,824.1 L1680.0,824.4 L1685.0,824.2 L1690.0,823.6 L1695.0,822.9 L1700.0,822.7 L1705.0,822.9 L1710.0,822.9 L1715.0,822.8 L1720.0,822.7 L1725.0,823.0 L1730.0,823.6 L1735.0,824.1 L1740.0,824.0 L1745.0,823.6 L1750.0,823.3 L1755.0,823.2 L1760.0,823.1 L1765.0,822.8 L1770.0,822.2 L1775.0,822.0 L1780.0,822.3 L1785.0,822.9 L1790.0,823.3 L1795.0,823.3 L1800.0,823.2 L1805.0,823.4 L1810.0,823.6 L1815.0,823.5 L1820.0,822.9 L1825.0,822.2 L1830.0,822.0 L1835.0,822.1 L1840.0,822.4 L1845.0,822.4 L1850.0,822.3 L1855.0,822.5 L1860.0,823.1 L1865.0,823.6 L1870.0,823.5 L1875.0,823.1 L1880.0,822.6 L1885.0,822.5 L1890.0,822.5 L1895.0,822.2 L1900.0,821.8 L1905.0,821.6 L1910.0,821.9 L1915.0,822.6 L1920.0,823.0 L1925.0,823.1 L1930.0,822.9 L1935.0,822.9 L1940.0,823.1 L1945.0,823.1 L1950.0,822.6 L1955.0,821.9 L1960.0,821.6 L1960.0,1129.5 L1955.0,1129.1 L1950.0,1129.1 L1945.0,1129.7 L1940.0,1130.3 L1935.0,1130.6 L1930.0,1130.5 L1925.0,1130.4 L1920.0,1130.5 L1915.0,1130.6 L1910.0,1130.4 L1905.0,1129.8 L1900.0,1129.3 L1895.0,1129.2 L1890.0,1129.6 L1885.0,1129.9 L1880.0,1130.0 L1875.0,1130.0 L1870.0,1130.4 L1865.0,1130.9 L1860.0,1131.2 L1855.0,1131.0 L1850.0,1130.5 L1845.0,1130.0 L1840.0,1130.0 L1835.0,1130.1 L1830.0,1130.0 L1825.0,1129.7 L1820.0,1129.7 L1815.0,1130.2 L1810.0,1131.0 L1805.0,1131.4 L1800.0,1131.3 L1795.0,1131.1 L1790.0,1131.0 L1785.0,1131.2 L1780.0,1131.0 L1775.0,1130.5 L1770.0,1130.0 L1765.0,1129.9 L1760.0,1130.4 L1755.0,1130.9 L1750.0,1131.1 L1745.0,1131.1 L1740.0,1131.3 L1735.0,1131.8 L1730.0,1132.1 L1725.0,1132.0 L1720.0,1131.4 L1715.0,1130.9 L1710.0,1130.8 L1705.0,1131.0 L1700.0,1131.0 L1695.0,1130.9 L1690.0,1130.9 L1685.0,1131.3 L1680.0,1132.1 L1675.0,1132.5 L1670.0,1132.5 L1665.0,1132.1 L1660.0,1131.9 L1655.0,1132.0 L1650.0,1132.0 L1645.0,1131.6 L1640.0,1131.1 L1635.0,1131.0 L1630.0,1131.4 L1625.0,1132.0 L1620.0,1132.4 L1615.0,1132.4 L1610.0,1132.4 L1605.0,1132.7 L1600.0,1133.0 L1595.0,1132.9 L1590.0,1132.3 L1585.0,1131.7 L1580.0,1131.5 L1575.0,1131.8 L1570.0,1132.0 L1565.0,1131.9 L1560.0,1131.9 L1555.0,1132.2 L1550.0,1132.9 L1545.0,1133.4 L1540.0,1133.3 L1535.0,1132.9 L1530.0,1132.5 L1525.0,1132.5 L1520.0,1132.4 L1515.0,1132.2 L1510.0,1131.7 L1505.0,1131.5 L1500.0,1131.9 L1495.0,1132.6 L1490.0,1133.0 L1485.0,1133.0 L1480.0,1132.9 L1475.0,1133.0 L1470.0,1133.2 L1465.0,1133.1 L1460.0,1132.5 L1455.0,1131.9 L1450.0,1131.6 L1445.0,1131.9 L1440.0,1132.2 L1435.0,1132.3 L1430.0,1132.2 L1425.0,1132.5 L1420.0,1133.0 L1415.0,1133.5 L1410.0,1133.4 L1405.0,1132.9 L1400.0,1132.4 L1395.0,1132.3 L1390.0,1132.3 L1385.0,1132.1 L1380.0,1131.8 L1375.0,1131.6 L1370.0,1132.0 L1365.0,1132.6 L1360.0,1133.1 L1355.0,1133.2 L1350.0,1132.9 L1345.0,1132.9 L1340.0,1133.0 L1335.0,1133.0 L1330.0,1132.5 L1325.0,1131.8 L1320.0,1131.5 L1315.0,1131.8 L1310.0,1132.2 L1305.0,1132.5 L1300.0,1132.4 L1295.0,1132.6 L1290.0,1133.0 L1285.0,1133.4 L1280.0,1133.4 L1275.0,1132.9 L1270.0,1132.3 L1265.0,1132.0 L1260.0,1132.1 L1255.0,1132.1 L1250.0,1131.9 L1245.0,1131.7 L1240.0,1132.0 L1235.0,1132.7 L1230.0,1133.2 L1225.0,1133.3 L1220.0,1133.0 L1215.0,1132.8 L1210.0,1132.8 L1205.0,1132.8 L1200.0,1132.4 L1195.0,1131.8 L1190.0,1131.5 L1185.0,1131.7 L1180.0,1132.3 L1175.0,1132.6 L1170.0,1132.7 L1165.0,1132.7 L1160.0,1133.0 L1155.0,1133.3 L1150.0,1133.4 L1145.0,1132.9 L1140.0,1132.2 L1135.0,1131.9 L1130.0,1131.9 L1125.0,1131.8 L1120.0,1131.3 L1115.0,1130.7 L1110.0,1130.4 L1105.0,1130.5 L1100.0,1130.5 L1095.0,1130.1 L1090.0,1129.3 L1085.0,1128.5 L1080.0,1128.2 L1075.0,1128.1 L1070.0,1127.9 L1065.0,1127.3 L1060.0,1127.0 L1055.0,1127.2 L1050.0,1127.8 L1045.0,1128.3 L1040.0,1128.4 L1035.0,1128.3 L1030.0,1128.4 L1025.0,1128.7 L1020.0,1128.8 L1015.0,1128.3 L1010.0,1127.6 L1005.0,1127.2 L1000.0,1127.3 L995.0,1127.6 L990.0,1127.7 L985.0,1127.6 L980.0,1127.7 L975.0,1128.3 L970.0,1128.8 L965.0,1129.0 L960.0,1128.6 L955.0,1128.1 L950.0,1127.9 L945.0,1127.9 L940.0,1127.8 L935.0,1127.4 L930.0,1127.1 L925.0,1127.2 L920.0,1127.9 L915.0,1128.4 L910.0,1128.6 L905.0,1128.4 L900.0,1128.4 L895.0,1128.6 L890.0,1128.6 L885.0,1128.2 L880.0,1127.6 L875.0,1127.1 L870.0,1127.2 L865.0,1127.6 L860.0,1127.8 L855.0,1127.8 L850.0,1127.9 L845.0,1128.3 L840.0,1128.8 L835.0,1129.0 L830.0,1128.6 L825.0,1128.0 L820.0,1127.7 L815.0,1127.7 L810.0,1127.7 L805.0,1127.5 L800.0,1127.2 L795.0,1127.3 L790.0,1127.9 L785.0,1128.5 L780.0,1128.8 L775.0,1128.6 L770.0,1128.4 L765.0,1128.4 L760.0,1128.5 L755.0,1128.2 L750.0,1127.5 L745.0,1127.1 L740.0,1127.1 L735.0,1127.6 L730.0,1128.0 L725.0,1128.0 L720.0,1128.1 L715.0,1128.3 L710.0,1128.8 L705.0,1129.0 L700.0,1128.6 L695.0,1127.9 L690.0,1127.5 L685.0,1127.5 L680.0,1127.6 L675.0,1127.5 L670.0,1127.3 L665.0,1127.4 L660.0,1127.9 L655.0,1128.6 L650.0,1128.9 L645.0,1128.7 L640.0,1128.3 L635.0,1128.2 L630.0,1128.2 L625.0,1128.1 L620.0,1127.5 L615.0,1127.1 L610.0,1127.1 L605.0,1127.6 L600.0,1128.1 L595.0,1128.3 L590.0,1128.2 L585.0,1128.3 L580.0,1128.7 L575.0,1128.9 L570.0,1128.6 L565.0,1127.9 L560.0,1127.4 L555.0,1127.3 L550.0,1127.5 L545.0,1127.6 L540.0,1127.5 L535.0,1127.5 L530.0,1128.0 L525.0,1128.7 L520.0,1129.0Z" fill="#03020f"/><path d="M520.0,830.1 L525.0,830.0 L530.0,828.8 L535.0,828.1 L540.0,828.2 L545.0,827.7 L550.0,826.0 L555.0,824.4 L560.0,824.8 L565.0,826.7 L570.0,828.2 L575.0,828.3 L580.0,828.3 L585.0,829.2 L590.0,830.2 L595.0,829.6 L600.0,827.4 L605.0,825.5 L610.0,825.4 L615.0,826.1 L620.0,826.3 L625.0,825.9 L630.0,826.5 L635.0,828.5 L640.0,830.3 L645.0,830.3 L650.0,828.8 L655.0,827.6 L660.0,827.5 L665.0,827.3 L670.0,826.0 L675.0,824.6 L680.0,824.8 L685.0,826.8 L690.0,828.7 L695.0,829.0 L700.0,828.6 L705.0,829.0 L710.0,829.8 L715.0,829.3 L720.0,827.2 L725.0,825.2 L730.0,824.9 L735.0,826.0 L740.0,826.7 L745.0,826.6 L750.0,826.9 L755.0,828.6 L760.0,830.4 L765.0,830.4 L770.0,828.7 L775.0,827.1 L780.0,826.8 L785.0,826.9 L790.0,826.0 L795.0,824.8 L800.0,825.0 L805.0,827.0 L810.0,829.1 L815.0,829.6 L820.0,828.9 L825.0,828.7 L830.0,829.2 L835.0,828.9 L840.0,827.0 L845.0,825.0 L850.0,824.6 L855.0,825.9 L860.0,827.1 L865.0,827.3 L870.0,827.4 L875.0,828.7 L880.0,830.3 L885.0,830.4 L890.0,828.6 L895.0,826.7 L900.0,826.2 L905.0,826.4 L910.0,826.1 L915.0,825.2 L920.0,825.4 L925.0,827.3 L930.0,829.5 L935.0,830.1 L940.0,829.2 L945.0,828.4 L950.0,828.6 L955.0,828.4 L960.0,826.8 L965.0,824.8 L970.0,824.4 L975.0,825.9 L980.0,827.5 L985.0,828.0 L990.0,827.9 L995.0,828.8 L1000.0,830.1 L1005.0,830.2 L1010.0,828.4 L1015.0,826.3 L1020.0,825.5 L1025.0,826.1 L1030.0,826.2 L1035.0,825.7 L1040.0,825.8 L1045.0,827.5 L1050.0,829.7 L1055.0,830.4 L1060.0,829.3 L1065.0,828.1 L1070.0,827.9 L1075.0,827.8 L1080.0,826.8 L1085.0,825.4 L1090.0,825.4 L1095.0,827.6 L1100.0,830.4 L1105.0,831.9 L1110.0,832.5 L1115.0,833.6 L1120.0,835.3 L1125.0,835.9 L1130.0,834.6 L1135.0,832.4 L1140.0,831.5 L1145.0,832.2 L1150.0,832.9 L1155.0,832.8 L1160.0,832.8 L1165.0,834.2 L1170.0,836.3 L1175.0,837.1 L1180.0,835.9 L1185.0,834.3 L1190.0,833.7 L1195.0,833.8 L1200.0,833.0 L1205.0,831.5 L1210.0,831.1 L1215.0,832.6 L1220.0,834.8 L1225.0,835.8 L1230.0,835.4 L1235.0,835.2 L1240.0,835.8 L1245.0,836.0 L1250.0,834.5 L1255.0,832.2 L1260.0,831.1 L1265.0,832.0 L1270.0,833.2 L1275.0,833.4 L1280.0,833.4 L1285.0,834.5 L1290.0,836.4 L1295.0,837.2 L1300.0,835.9 L1305.0,834.0 L1310.0,833.1 L1315.0,833.2 L1320.0,832.9 L1325.0,831.8 L1330.0,831.3 L1335.0,832.8 L1340.0,835.1 L1345.0,836.3 L1350.0,835.8 L1355.0,835.2 L1360.0,835.3 L1365.0,835.5 L1370.0,834.2 L1375.0,832.0 L1380.0,830.9 L1385.0,831.8 L1390.0,833.4 L1395.0,834.1 L1400.0,834.0 L1405.0,834.7 L1410.0,836.3 L1415.0,837.1 L1420.0,835.8 L1425.0,833.6 L1430.0,832.4 L1435.0,832.6 L1440.0,832.8 L1445.0,832.2 L1450.0,831.8 L1455.0,833.0 L1460.0,835.4 L1465.0,836.7 L1470.0,836.2 L1475.0,835.0 L1480.0,834.8 L1485.0,834.9 L1490.0,833.9 L1495.0,831.9 L1500.0,830.8 L1505.0,831.7 L1510.0,833.7 L1515.0,834.7 L1520.0,834.7 L1525.0,834.9 L1530.0,836.1 L1535.0,836.8 L1540.0,835.6 L1545.0,833.3 L1550.0,831.9 L1555.0,832.1 L1560.0,832.7 L1565.0,832.5 L1570.0,832.2 L1575.0,833.2 L1580.0,835.4 L1585.0,836.9 L1590.0,836.3 L1595.0,834.7 L1600.0,834.0 L1605.0,834.0 L1610.0,833.4 L1615.0,831.7 L1620.0,830.6 L1625.0,831.5 L1630.0,833.6 L1635.0,835.0 L1640.0,834.9 L1645.0,834.7 L1650.0,835.4 L1655.0,836.0 L1660.0,835.0 L1665.0,832.6 L1670.0,831.0 L1675.0,831.2 L1680.0,832.2 L1685.0,832.5 L1690.0,832.3 L1695.0,833.1 L1700.0,835.0 L1705.0,836.5 L1710.0,835.9 L1715.0,834.0 L1720.0,832.8 L1725.0,832.7 L1730.0,832.5 L1735.0,831.3 L1740.0,830.3 L1745.0,831.1 L1750.0,833.3 L1755.0,834.9 L1760.0,834.9 L1765.0,834.3 L1770.0,834.4 L1775.0,834.9 L1780.0,834.0 L1785.0,831.8 L1790.0,830.1 L1795.0,830.3 L1800.0,831.7 L1805.0,832.5 L1810.0,832.4 L1815.0,832.9 L1820.0,834.5 L1825.0,835.9 L1830.0,835.3 L1835.0,833.3 L1840.0,831.7 L1845.0,831.5 L1850.0,831.7 L1855.0,831.0 L1860.0,830.1 L1865.0,830.8 L1870.0,833.0 L1875.0,834.9 L1880.0,834.9 L1885.0,833.9 L1890.0,833.6 L1895.0,833.8 L1900.0,833.2 L1905.0,831.3 L1910.0,829.6 L1915.0,829.8 L1920.0,831.4 L1925.0,832.7 L1930.0,832.8 L1935.0,833.0 L1940.0,834.2 L1945.0,835.4 L1950.0,834.9 L1955.0,832.8 L1960.0,831.0 L1960.0,1123.7 L1955.0,1122.8 L1950.0,1121.2 L1945.0,1120.6 L1940.0,1120.6 L1935.0,1119.8 L1930.0,1118.1 L1925.0,1117.3 L1920.0,1118.6 L1915.0,1120.8 L1910.0,1122.0 L1905.0,1121.8 L1900.0,1121.8 L1895.0,1122.6 L1890.0,1123.1 L1885.0,1121.7 L1880.0,1119.3 L1875.0,1117.9 L1870.0,1118.5 L1865.0,1119.6 L1860.0,1119.8 L1855.0,1119.7 L1850.0,1120.8 L1845.0,1123.0 L1840.0,1124.2 L1835.0,1123.2 L1830.0,1121.3 L1825.0,1120.4 L1820.0,1120.5 L1815.0,1120.1 L1810.0,1118.8 L1805.0,1118.1 L1800.0,1119.3 L1795.0,1121.8 L1790.0,1123.3 L1785.0,1123.1 L1780.0,1122.6 L1775.0,1122.9 L1770.0,1123.3 L1765.0,1122.2 L1760.0,1119.8 L1755.0,1118.4 L1750.0,1119.1 L1745.0,1120.6 L1740.0,1121.3 L1735.0,1121.3 L1730.0,1122.0 L1725.0,1123.9 L1720.0,1125.1 L1715.0,1124.2 L1710.0,1122.0 L1705.0,1120.7 L1700.0,1120.8 L1695.0,1120.9 L1690.0,1120.1 L1685.0,1119.4 L1680.0,1120.6 L1675.0,1123.0 L1670.0,1124.7 L1665.0,1124.5 L1660.0,1123.5 L1655.0,1123.4 L1650.0,1123.6 L1645.0,1122.8 L1640.0,1120.7 L1635.0,1119.2 L1630.0,1119.9 L1625.0,1121.7 L1620.0,1122.9 L1615.0,1122.9 L1610.0,1123.3 L1605.0,1124.7 L1600.0,1125.8 L1595.0,1124.9 L1590.0,1122.6 L1585.0,1121.0 L1580.0,1121.0 L1575.0,1121.5 L1570.0,1121.2 L1565.0,1120.7 L1560.0,1121.7 L1555.0,1124.0 L1550.0,1125.8 L1545.0,1125.6 L1540.0,1124.2 L1535.0,1123.5 L1530.0,1123.6 L1525.0,1123.0 L1520.0,1121.2 L1515.0,1119.7 L1510.0,1120.3 L1505.0,1122.4 L1500.0,1123.9 L1495.0,1124.0 L1490.0,1124.0 L1485.0,1124.8 L1480.0,1125.7 L1475.0,1125.0 L1470.0,1122.6 L1465.0,1120.7 L1460.0,1120.7 L1455.0,1121.6 L1450.0,1121.8 L1445.0,1121.5 L1440.0,1122.2 L1435.0,1124.3 L1430.0,1126.1 L1425.0,1125.8 L1420.0,1124.2 L1415.0,1123.0 L1410.0,1122.9 L1405.0,1122.6 L1400.0,1121.2 L1395.0,1119.9 L1390.0,1120.4 L1385.0,1122.6 L1380.0,1124.5 L1375.0,1124.7 L1370.0,1124.2 L1365.0,1124.6 L1360.0,1125.3 L1355.0,1124.6 L1350.0,1122.4 L1345.0,1120.4 L1340.0,1120.3 L1335.0,1121.5 L1330.0,1122.3 L1325.0,1122.2 L1320.0,1122.6 L1315.0,1124.4 L1310.0,1126.1 L1305.0,1125.9 L1300.0,1124.0 L1295.0,1122.4 L1290.0,1122.1 L1285.0,1122.2 L1280.0,1121.3 L1275.0,1120.2 L1270.0,1120.6 L1265.0,1122.9 L1260.0,1124.9 L1255.0,1125.3 L1250.0,1124.5 L1245.0,1124.2 L1240.0,1124.7 L1235.0,1124.2 L1230.0,1122.2 L1225.0,1120.2 L1220.0,1120.0 L1215.0,1121.5 L1210.0,1122.8 L1205.0,1122.9 L1200.0,1123.1 L1195.0,1124.5 L1190.0,1126.0 L1185.0,1125.9 L1180.0,1123.9 L1175.0,1121.9 L1170.0,1121.4 L1165.0,1121.8 L1160.0,1121.5 L1155.0,1120.7 L1150.0,1121.0 L1145.0,1123.1 L1140.0,1125.3 L1135.0,1125.7 L1130.0,1124.6 L1125.0,1123.5 L1120.0,1123.3 L1115.0,1122.5 L1110.0,1120.3 L1105.0,1117.8 L1100.0,1117.1 L1095.0,1118.2 L1090.0,1119.5 L1085.0,1119.5 L1080.0,1119.2 L1075.0,1120.0 L1070.0,1121.3 L1065.0,1121.2 L1060.0,1119.2 L1055.0,1116.9 L1050.0,1116.3 L1045.0,1117.0 L1040.0,1117.2 L1035.0,1116.7 L1030.0,1116.9 L1025.0,1118.8 L1020.0,1121.0 L1015.0,1121.6 L1010.0,1120.3 L1005.0,1119.0 L1000.0,1118.8 L995.0,1118.7 L990.0,1117.4 L985.0,1115.6 L980.0,1115.4 L975.0,1117.2 L970.0,1119.2 L965.0,1119.9 L960.0,1119.6 L955.0,1119.9 L950.0,1120.9 L945.0,1120.8 L940.0,1118.9 L935.0,1116.6 L930.0,1115.8 L925.0,1116.7 L920.0,1117.5 L915.0,1117.3 L910.0,1117.5 L905.0,1119.0 L900.0,1121.2 L895.0,1121.7 L890.0,1120.3 L885.0,1118.6 L880.0,1118.0 L875.0,1118.1 L870.0,1117.3 L865.0,1115.8 L860.0,1115.6 L855.0,1117.3 L850.0,1119.6 L845.0,1120.5 L840.0,1120.0 L835.0,1119.8 L830.0,1120.4 L825.0,1120.4 L820.0,1118.7 L815.0,1116.3 L810.0,1115.5 L805.0,1116.5 L800.0,1117.8 L795.0,1118.0 L790.0,1118.1 L785.0,1119.3 L780.0,1121.1 L775.0,1121.8 L770.0,1120.3 L765.0,1118.2 L760.0,1117.3 L755.0,1117.5 L750.0,1117.2 L745.0,1116.2 L740.0,1115.9 L735.0,1117.5 L730.0,1120.0 L725.0,1121.1 L720.0,1120.4 L715.0,1119.6 L710.0,1119.8 L705.0,1119.8 L700.0,1118.4 L695.0,1116.2 L690.0,1115.2 L685.0,1116.4 L680.0,1118.1 L675.0,1118.7 L670.0,1118.7 L665.0,1119.4 L660.0,1121.0 L655.0,1121.6 L650.0,1120.2 L645.0,1117.8 L640.0,1116.7 L635.0,1117.0 L630.0,1117.2 L625.0,1116.6 L620.0,1116.3 L615.0,1117.8 L610.0,1120.2 L605.0,1121.5 L600.0,1120.7 L595.0,1119.5 L590.0,1119.1 L585.0,1119.2 L580.0,1118.1 L575.0,1116.2 L570.0,1115.2 L565.0,1116.3 L560.0,1118.4 L555.0,1119.4 L550.0,1119.3 L545.0,1119.6 L540.0,1120.7 L535.0,1121.3 L530.0,1120.0 L525.0,1117.5 L520.0,1116.1Z" fill="#0204b9"/></g></g>
<defs><clipPath id="beltLin"><path d="M610,790 L609,813 C586,826 562,842 548,856 C538,866 531,878 527.5,897 L526.5,985 L531,1060 C536,1078 546,1084 554,1090 C568,1102 584,1116 595,1130 L596,1160 L1960,1160 L1960,790Z"/></clipPath></defs>
<g font-family="DejaVu Sans, Liberation Sans, sans-serif" font-weight="bold" fill="#ff5000" stroke="#ff5000" stroke-linejoin="miter">
<defs><clipPath id="c1clip"><path d="M500,840 L526,862 L531,867 L584.5,915.5 L529,953 L500,953Z M500,1019 L529,1019 L585.5,1054 L531,1105 L526,1112 L500,1130Z"/></clipPath></defs>
<g clip-path="url(#beltLin)"><g filter="url(#b1)"><g clip-path="url(#c1clip)"><text transform="translate(374.75,1078.44) scale(1.0592,1)" font-size="251.21" stroke-width="72">C</text></g><text transform="translate(592.32,1084.70) scale(1.1851,1)" font-size="268.40" font-weight="200" stroke-width="46">O</text><text transform="translate(860.89,1086.00) scale(1.0949,1)" font-size="272.29" font-weight="200" stroke-width="47">U</text><text transform="translate(1080.34,1089.50) scale(1.1784,1)" font-size="281.89" font-weight="200" stroke-width="40">N</text><text transform="translate(1297.93,1105.50) scale(0.8607,1)" font-size="325.79" stroke-width="8">T</text><text transform="translate(1526.53,1085.50) scale(1.0007,1)" font-size="270.92" font-weight="200" stroke-width="48">Y</text><text transform="translate(1777.47,1085.66) scale(1.0711,1)" font-size="271.04" font-weight="200" stroke-width="44">C</text></g></g>
</g>
<g fill="none" stroke="#050308" stroke-linecap="round" stroke-linejoin="round"><path d="M764.4,868.0 L765.2,876.2 L765.4,884.3 L766.7,892.5 L768.2,900.6 L766.8,908.8 L766.6,917.0 L765.7,925.1 L765.0,933.3 L767.0,941.4 L766.9,949.6 L768.0,957.7 L768.5,965.9 L766.8,974.1 L766.6,982.2 L765.9,990.4 L766.2,998.6 L768.2,1006.7 L768.0,1014.9 L768.9,1023.0 L768.5,1031.2 L766.2,1039.4 L766.7,1047.5 L767.0,1055.7 L768.0,1063.8 L769.8,1072.0" stroke-width="8.6" /><path d="M765.9,874.0 L767.3,882.0 L770.5,890.0 L768.0,898.0 L767.2,906.0 L764.2,914.0 L768.5,922.0 L768.4,930.0 L770.3,938.0 L765.4,946.0 L765.8,954.0 L765.7,962.0 L770.1,970.0 L768.6,978.0 L766.7,986.0 L764.2,994.0 L766.7,1002.0 L769.1,1010.0 L768.8,1018.0 L767.0,1026.0 L763.8,1034.0 L766.7,1042.0 L767.4,1050.0 L770.2,1058.0 L766.0,1066.0" stroke-width="4" /><path d="M884.2,868.1 L885.3,876.2 L885.7,884.3 L887.0,892.5 L888.8,900.6 L887.8,908.8 L887.8,917.0 L886.8,925.1 L886.1,933.3 L888.4,941.4 L888.6,949.6 L889.6,957.7 L890.4,965.9 L888.6,974.1 L888.8,982.3 L888.4,990.4 L888.5,998.6 L891.1,1006.7 L891.2,1014.9 L891.7,1023.0 L891.7,1031.2 L889.8,1039.4 L890.4,1047.5 L890.4,1055.7 L891.6,1063.8 L893.9,1071.9" stroke-width="8.6" /><path d="M885.8,874.0 L887.3,882.0 L890.5,890.0 L888.3,898.0 L887.6,906.0 L884.6,914.1 L889.5,922.0 L889.5,930.0 L891.2,938.0 L886.5,946.0 L887.7,954.0 L887.7,962.0 L892.1,969.9 L890.3,978.0 L889.6,986.0 L886.8,994.1 L888.9,1002.0 L891.6,1010.0 L891.8,1018.0 L890.2,1026.0 L887.4,1034.1 L890.1,1042.0 L891.4,1050.0 L894.4,1057.9 L889.6,1066.0" stroke-width="4" /><path d="M770.5,877.7 L774.7,883.4 L779.3,888.8 L780.5,896.5 L784.2,902.5 L788.7,908.0 L794.3,912.8 L798.2,918.7 L799.9,926.0 L803.5,932.1 L807.5,937.9 L814.1,942.1 L816.8,948.7 L820.3,954.9 L821.3,962.6 L827.5,967.1 L831.6,972.8 L837.2,977.7 L838.5,985.2 L841.8,991.5 L845.5,997.5 L851.9,1001.8 L856.0,1007.6 L858.5,1014.4 L860.8,1021.3 L864.7,1027.2 L871.2,1031.4 L874.5,1037.7 L878.4,1043.6 L879.5,1051.3 L884.9,1056.2 L888.8,1062.1" stroke-width="4.2"/><path d="M883.9,878.6 L881.2,885.3 L874.5,889.6 L871.1,895.9 L866.9,901.7 L866.4,909.8 L861.6,915.3 L857.5,921.2 L851.4,925.9 L849.5,933.1 L847.1,940.0 L843.5,946.2 L838.5,951.6 L833.2,956.7 L830.9,963.7 L827.8,970.2 L826.1,977.5 L819.4,981.8 L815.8,988.0 L811.1,993.6 L810.8,1001.8 L806.1,1007.3 L801.8,1013.0 L796.1,1018.0 L793.6,1024.8 L791.4,1031.9 L787.8,1038.1 L783.5,1043.8 L777.4,1048.6 L775.5,1055.7 L772.2,1062.1" stroke-width="4.2"/><path d="M769,869 Q826.5,864 886,870" stroke-width="4" stroke-linecap="butt" stroke-dasharray="14 5 9 4 6 5"/><path d="M771,1073 Q826.5,1079 890,1070" stroke-width="4" stroke-linecap="butt" stroke-dasharray="7 6 10 5 4 5"/></g>
<g fill="none" stroke="#050308" stroke-linecap="round" stroke-linejoin="round"><path d="M1019.8,871.0 L1020.8,879.2 L1021.6,887.5 L1023.4,895.7 L1021.7,904.0 L1020.9,912.2 L1020.8,920.4 L1019.8,928.7 L1021.6,936.9 L1022.4,945.2 L1022.6,953.4 L1023.6,961.6 L1021.3,969.9 L1021.1,978.1 L1021.1,986.4 L1020.9,994.6 L1023.4,1002.8 L1023.4,1011.1 L1023.2,1019.3 L1023.0,1027.6 L1021.1,1035.8 L1022.1,1044.0 L1022.4,1052.3 L1023.1,1060.5 L1024.9,1068.7 L1023.2,1077.0" stroke-width="8.6" /><path d="M1023.3,877.0 L1023.6,885.1 L1025.2,893.2 L1021.1,901.2 L1020.6,909.3 L1021.9,917.4 L1024.3,925.5 L1024.2,933.6 L1020.9,941.7 L1020.9,949.7 L1020.4,957.8 L1025.1,965.9 L1023.0,974.0 L1022.6,982.1 L1018.5,990.2 L1022.2,998.3 L1023.0,1006.3 L1024.8,1014.4 L1020.8,1022.5 L1020.4,1030.6 L1020.5,1038.7 L1023.5,1046.8 L1024.5,1054.8 L1021.3,1062.9 L1020.4,1071.0" stroke-width="4" /><path d="M1137.8,871.0 L1139.2,879.2 L1139.5,887.5 L1141.7,895.7 L1140.3,903.9 L1139.6,912.2 L1139.9,920.5 L1138.8,928.7 L1140.8,936.9 L1141.8,945.1 L1142.3,953.4 L1143.3,961.6 L1141.2,969.9 L1141.0,978.2 L1141.6,986.4 L1141.4,994.6 L1144.3,1002.8 L1143.9,1011.1 L1144.1,1019.3 L1143.7,1027.6 L1142.0,1035.9 L1143.2,1044.1 L1143.9,1052.3 L1144.7,1060.5 L1146.7,1068.7 L1145.5,1077.0" stroke-width="8.6" /><path d="M1141.4,877.0 L1141.8,885.1 L1143.1,893.1 L1139.2,901.3 L1139.4,909.4 L1140.3,917.4 L1143.2,925.5 L1143.5,933.5 L1140.5,941.7 L1140.0,949.8 L1140.5,957.9 L1145.0,965.9 L1143.2,974.0 L1143.1,982.1 L1138.7,990.2 L1143.1,998.2 L1143.6,1006.3 L1145.7,1014.4 L1142.2,1022.5 L1141.5,1030.6 L1141.8,1038.7 L1145.2,1046.7 L1146.0,1054.8 L1143.4,1062.9 L1142.5,1071.0" stroke-width="4" /><path d="M1025.9,880.4 L1030.5,885.9 L1031.8,893.5 L1035.3,899.6 L1038.9,905.8 L1045.6,909.9 L1048.5,916.5 L1052.1,922.6 L1052.9,930.4 L1058.8,935.1 L1063.4,940.6 L1068.2,946.0 L1070.2,953.1 L1072.8,959.8 L1076.8,965.6 L1082.3,970.6 L1087.5,975.7 L1088.8,983.2 L1092.2,989.5 L1094.8,996.2 L1102.1,1000.0 L1105.1,1006.5 L1109.3,1012.2 L1109.8,1020.2 L1114.9,1025.4 L1119.3,1031.0 L1124.9,1035.9 L1127.0,1042.9 L1129.4,1049.8 L1133.2,1055.8 L1138.4,1060.9 L1144.0,1065.7" stroke-width="4.2"/><path d="M1136.8,881.5 L1133.0,887.6 L1127.1,892.5 L1124.3,899.1 L1122.2,906.2 L1119.2,912.8 L1114.6,918.5 L1108.6,923.2 L1106.6,930.4 L1103.6,936.9 L1101.7,944.2 L1095.5,948.9 L1091.6,954.9 L1087.2,960.7 L1086.6,968.7 L1082.7,974.7 L1078.2,980.4 L1073.1,985.7 L1069.5,992.0 L1068.4,999.6 L1064.4,1005.6 L1060.5,1011.7 L1053.9,1016.1 L1052.0,1023.3 L1048.7,1029.7 L1047.1,1037.1 L1041.3,1042.0 L1036.9,1047.8 L1033.1,1053.9 L1031.4,1061.2 L1028.6,1068.0" stroke-width="4.2"/><path d="M1024,872 Q1080.5,867 1139,873" stroke-width="4" stroke-linecap="butt" stroke-dasharray="14 5 9 4 6 5"/><path d="M1026,1078 Q1080.5,1084 1143,1075" stroke-width="4" stroke-linecap="butt" stroke-dasharray="7 6 10 5 4 5"/></g>
<g><path d="M1006.0,802.8 1015.4,801.9 1025.4,801.5 1036.2,801.6 1046.0,802.1 1055.3,803.1 1064.4,804.5 1073.2,806.3 1081.8,808.7 1090.1,811.4 1098.3,814.6 1106.2,818.2 1113.9,822.2 1121.3,826.6 1128.4,831.5 1135.3,836.7 1141.9,842.3 1148.1,848.3 1154.1,854.6 1159.7,861.3 1165.0,868.3 1170.0,875.6 1174.5,883.2 1178.8,891.1 1182.6,899.3 1186.0,907.8 1189.1,916.5 1191.7,925.4 1194.0,934.6 1195.8,944.0 1197.3,953.7 1198.3,963.6 1198.8,974.0 1199.0,985.5 1198.7,996.5 1198.1,1006.7 1197.0,1016.6 1195.4,1026.2 1193.5,1035.6 1191.2,1044.7 1188.4,1053.6 1185.3,1062.3 1181.7,1070.7 1177.8,1078.8 1173.5,1086.6 1168.8,1094.2 1163.8,1101.4 1158.4,1108.3 1152.7,1114.9 1146.7,1121.2 1140.3,1127.1 1133.7,1132.6 1126.7,1137.7 1119.5,1142.5 1112.1,1146.8 1104.3,1150.7 1096.4,1154.2 1088.2,1157.3 1079.8,1159.9 1071.1,1162.1 1062.3,1163.9" fill="none" stroke="url(#grbase)" stroke-width="29" stroke-linecap="butt" stroke-linejoin="round"/>
<path d="M1005.5,799.3 1015.1,798.4 1025.3,798.0 1036.4,798.1 1046.3,798.6 1055.9,799.6 1065.1,801.0 1074.1,802.9 1082.9,805.3 1091.4,808.1 1099.7,811.3 1107.8,815.0 1115.6,819.1 1123.2,823.6 1130.5,828.5 1137.5,833.9 1144.2,839.6 1150.6,845.7 1156.7,852.1 1162.4,858.9 1167.8,866.0 1172.9,873.5 1177.5,881.3 1181.8,889.3 1185.8,897.7 1189.3,906.3 1192.4,915.2 1195.1,924.3 1197.4,933.6 1199.3,943.2 1200.7,953.1 1201.7,963.3 1202.3,973.8 1202.5,985.6 1202.2,996.7 1201.5,1007.2 1200.4,1017.3 1198.9,1027.1 1196.9,1036.6 1194.5,1045.9 1191.7,1055.0 1188.5,1063.8 1184.9,1072.3 1180.9,1080.6 1176.5,1088.6 1171.7,1096.3 1166.6,1103.7 1161.1,1110.7 1155.3,1117.4 1149.1,1123.8 1142.6,1129.8 1135.8,1135.4 1128.8,1140.7 1121.4,1145.5 1113.8,1149.9 1105.9,1153.9 1097.8,1157.5 1089.4,1160.6 1080.8,1163.3 1072.0,1165.6 1062.9,1167.3" fill="none" stroke="url(#grout)" stroke-width="18.0" stroke-linecap="butt" stroke-linejoin="round"/>
<path d="M1006.8,808.7 1015.9,807.9 1025.5,807.5 1036.0,807.6 1045.4,808.1 1054.4,809.0 1063.1,810.4 1071.6,812.2 1079.9,814.4 1088.0,817.1 1095.8,820.1 1103.5,823.6 1110.9,827.5 1118.0,831.8 1124.9,836.5 1131.5,841.5 1137.9,847.0 1143.9,852.7 1149.7,858.8 1155.1,865.3 1160.2,872.1 1165.0,879.1 1169.4,886.5 1173.5,894.2 1177.2,902.1 1180.5,910.3 1183.4,918.7 1186.0,927.3 1188.2,936.2 1189.9,945.3 1191.3,954.7 1192.3,964.3 1192.8,974.3 1193.0,985.5 1192.7,996.1 1192.1,1006.0 1191.0,1015.6 1189.6,1024.9 1187.7,1033.9 1185.4,1042.7 1182.8,1051.3 1179.7,1059.7 1176.3,1067.8 1172.5,1075.7 1168.4,1083.3 1163.9,1090.6 1159.0,1097.6 1153.9,1104.3 1148.4,1110.6 1142.5,1116.7 1136.4,1122.4 1130.0,1127.7 1123.3,1132.7 1116.3,1137.2 1109.1,1141.4 1101.7,1145.2 1094.0,1148.6 1086.1,1151.6 1078.0,1154.2 1069.6,1156.3 1061.1,1158.0" fill="none" stroke="url(#grmid)" stroke-width="8.4" stroke-linecap="butt" stroke-linejoin="round"/>
<path d="M1007.6,813.9 1016.4,813.1 1025.6,812.7 1035.8,812.8 1044.9,813.3 1053.6,814.2 1062.1,815.5 1070.3,817.2 1078.3,819.4 1086.1,822.0 1093.7,825.0 1101.1,828.4 1108.3,832.1 1115.2,836.3 1121.9,840.8 1128.3,845.7 1134.4,851.0 1140.3,856.6 1145.9,862.5 1151.1,868.8 1156.1,875.4 1160.7,882.2 1165.0,889.4 1168.9,896.8 1172.5,904.5 1175.7,912.4 1178.6,920.6 1181.0,929.0 1183.1,937.6 1184.8,946.5 1186.2,955.5 1187.1,964.9 1187.6,974.6 1187.8,985.4 1187.6,995.7 1186.9,1005.4 1185.9,1014.6 1184.5,1023.7 1182.7,1032.4 1180.5,1041.0 1177.9,1049.4 1175.0,1057.5 1171.7,1065.3 1168.0,1073.0 1164.0,1080.3 1159.6,1087.4 1154.9,1094.2 1149.9,1100.7 1144.6,1106.9 1138.9,1112.8 1133.0,1118.3 1126.8,1123.5 1120.3,1128.3 1113.6,1132.7 1106.6,1136.8 1099.4,1140.5 1092.0,1143.8 1084.3,1146.7 1076.4,1149.1 1068.4,1151.2 1060.1,1152.9" fill="none" stroke="url(#grin)" stroke-width="5.6" stroke-linecap="butt" stroke-linejoin="round"/>
<path d="M1005.8,801.4 1015.3,800.5 1025.3,800.1 1036.3,800.2 1046.1,800.7 1055.5,801.7 1064.7,803.1 1073.5,805.0 1082.2,807.3 1090.6,810.1 1098.8,813.3 1106.8,816.9 1114.6,821.0 1122.0,825.4 1129.2,830.3 1136.2,835.6 1142.8,841.2 1149.1,847.2 1155.1,853.6 1160.8,860.3 1166.1,867.4 1171.1,874.8 1175.7,882.4 1180.0,890.4 1183.9,898.7 1187.3,907.2 1190.4,915.9 1193.1,925.0 1195.4,934.2 1197.2,943.7 1198.6,953.5 1199.6,963.5 1200.2,973.9 1200.4,985.5 1200.1,996.6 1199.4,1006.9 1198.3,1016.9 1196.8,1026.6 1194.9,1036.0 1192.5,1045.2 1189.7,1054.2 1186.5,1062.9 1183.0,1071.3 1179.0,1079.5 1174.7,1087.4 1170.0,1095.0 1164.9,1102.3 1159.5,1109.3 1153.7,1115.9 1147.6,1122.2 1141.2,1128.2 1134.5,1133.7 1127.6,1138.9 1120.3,1143.7 1112.7,1148.0 1105.0,1152.0 1096.9,1155.5 1088.7,1158.6 1080.2,1161.3 1071.5,1163.5 1062.5,1165.3" fill="none" stroke="url(#grhi)" stroke-width="2.6" stroke-linecap="butt" stroke-linejoin="round"/>
<path d="M1007.1,810.3 1016.1,809.5 1025.5,809.1 1035.9,809.2 1045.3,809.7 1054.2,810.6 1062.8,812.0 1071.2,813.7 1079.4,816.0 1087.4,818.6 1095.2,821.6 1102.8,825.1 1110.1,828.9 1117.2,833.2 1124.0,837.8 1130.5,842.8 1136.8,848.2 1142.8,853.9 1148.5,860.0 1153.9,866.4 1158.9,873.1 1163.7,880.1 1168.0,887.4 1172.1,895.0 1175.7,902.8 1179.0,910.9 1181.9,919.3 1184.5,927.8 1186.6,936.6 1188.4,945.7 1189.7,954.9 1190.7,964.5 1191.2,974.4 1191.4,985.5 1191.1,996.0 1190.5,1005.8 1189.4,1015.3 1188.0,1024.5 1186.1,1033.5 1183.9,1042.2 1181.3,1050.7 1178.3,1059.0 1174.9,1067.1 1171.1,1074.8 1167.0,1082.4 1162.6,1089.6 1157.8,1096.5 1152.6,1103.2 1147.2,1109.5 1141.4,1115.5 1135.4,1121.1 1129.0,1126.4 1122.4,1131.3 1115.5,1135.9 1108.4,1140.0 1101.0,1143.8 1093.4,1147.1 1085.5,1150.1 1077.5,1152.6 1069.2,1154.7 1060.8,1156.4" fill="none" stroke="url(#grhi)" stroke-width="2.6" stroke-linecap="butt" stroke-linejoin="round"/></g>
<path d="M1524,1132 L1692,1134 L1690,1140 C1680,1160 1650,1165 1636,1160 L1603,1148 L1570,1162 C1550,1165 1530,1160 1524,1140Z" fill="#141518"/>
<path d="M1526,1118 L1526,856 C1526,822 1544,810.5 1565,810.5 C1584,810.5 1595,818 1602,829 C1609,818 1620,810 1641,810 C1668,810 1686,822 1686,852 L1686,1118 C1686,1148 1668,1160.5 1641,1160.5 C1620,1160.5 1609,1152 1603,1143 C1596,1152 1585,1160.5 1565,1160.5 C1544,1160.5 1526,1150 1526,1118" fill="none" stroke="#1e1f22" stroke-width="17.5" stroke-linejoin="round"/>
<path d="M1526,1118 L1526,856 C1526,822 1544,810.5 1565,810.5 C1584,810.5 1595,818 1602,829 C1609,818 1620,810 1641,810 C1668,810 1686,822 1686,852 L1686,1118 C1686,1148 1668,1160.5 1641,1160.5 C1620,1160.5 1609,1152 1603,1143 C1596,1152 1585,1160.5 1565,1160.5 C1544,1160.5 1526,1150 1526,1118" fill="none" stroke="#4b4c50" stroke-width="2" stroke-linejoin="round" opacity=".75" transform="translate(0,0)"/>
<rect x="1511.5" y="823" width="23" height="326" rx="7" fill="#1b1c1f"/>
<rect x="1519" y="830" width="3" height="312" rx="1.5" fill="#2e2f33"/>
<g stroke="#39393b" fill="none"><path d="M875.2,250 V770" stroke-width="4.4"/><path d="M875,774.1 H1037" stroke-width="3.6"/><path d="M1598.6,1190 V1443" stroke-width="4.4"/><path d="M1016,1445.6 L1596,1443.8" stroke-width="3.6"/></g>
<g fill="#39393b"><circle cx="873.8" cy="250.4" r="17.5"/><circle cx="874.5" cy="769.8" r="17.4"/><circle cx="1036.9" cy="768.5" r="17.4"/><circle cx="1597.7" cy="1190.1" r="17.7"/><circle cx="1595.5" cy="1443" r="17.5"/><circle cx="1016" cy="1446.2" r="17.5"/></g>
<g font-family="Liberation Sans, Arial, sans-serif" font-weight="bold" stroke-linejoin="miter" style="font-kerning:none">
<text transform="translate(941.86,275.90) scale(0.9358,1)" font-size="102.62" fill="#084a76" stroke="#084a76" stroke-width="2.2">CHROME</text>
<text transform="translate(1393.66,275.90) scale(0.9667,1)" font-size="102.62" fill="#084a76" stroke="#084a76" stroke-width="2.2">D-RING</text>
<text transform="translate(948.67,354.30) scale(0.9761,1)" font-size="48.26" fill="#0b87c5" stroke="#0b87c5" stroke-width="3.4">TO</text>
<text transform="translate(1028.00,354.30) scale(0.9949,1)" font-size="48.26" fill="#0b87c5" stroke="#0b87c5" stroke-width="3.4">ATTACH</text>
<text transform="translate(1241.40,354.30) scale(0.9919,1)" font-size="48.26" fill="#0b87c5" stroke="#0b87c5" stroke-width="3.4">LEASH</text>
<text transform="translate(1419.42,354.30) scale(1.0689,1)" font-size="48.26" fill="#0b87c5" stroke="#0b87c5" stroke-width="3.4">AND</text>
<text transform="translate(1544.38,354.30) scale(0.9657,1)" font-size="48.26" fill="#0b87c5" stroke="#0b87c5" stroke-width="3.4">TAGS</text>
<text transform="translate(472.88,1566.70) scale(0.9558,1)" font-size="102.03" fill="#084a76" stroke="#084a76" stroke-width="2.2">NON-SLIP</text>
<text transform="translate(963.07,1566.70) scale(0.9270,1)" font-size="102.03" fill="#084a76" stroke="#084a76" stroke-width="2.2">METAL</text>
<text transform="translate(1313.74,1566.70) scale(0.9164,1)" font-size="102.03" fill="#084a76" stroke="#084a76" stroke-width="2.2">LOOP</text>
<text transform="translate(473.15,1652.00) scale(1.0041,1)" font-size="48.40" fill="#0b87c5" stroke="#0b87c5" stroke-width="3.4">TO</text>
<text transform="translate(555.54,1652.00) scale(0.9754,1)" font-size="48.40" fill="#0b87c5" stroke="#0b87c5" stroke-width="3.4">EASILY</text>
<text transform="translate(740.47,1652.00) scale(1.0172,1)" font-size="48.40" fill="#0b87c5" stroke="#0b87c5" stroke-width="3.4">ADJUST</text>
<text transform="translate(954.52,1652.00) scale(0.9905,1)" font-size="48.40" fill="#0b87c5" stroke="#0b87c5" stroke-width="3.4">SIZE</text>
</g>
</svg>
</body></html>
